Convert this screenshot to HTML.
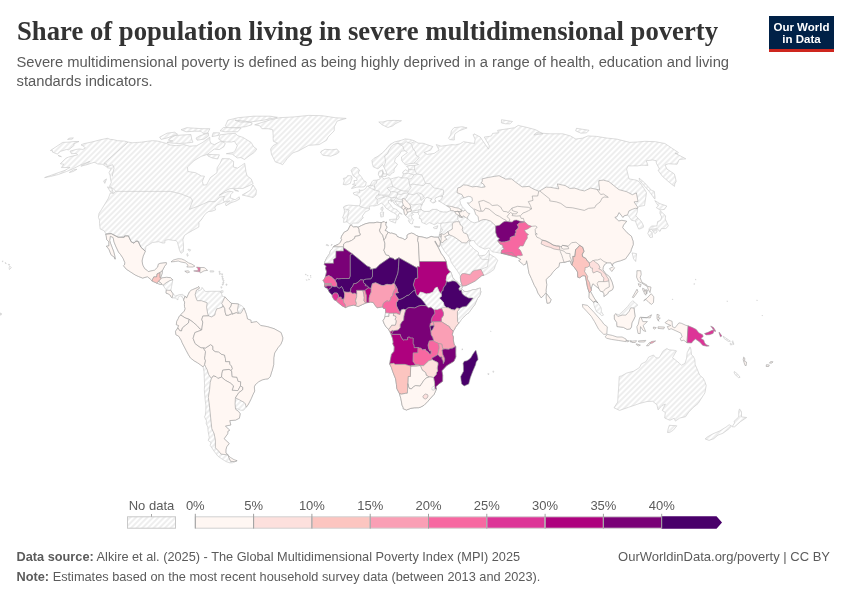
<!DOCTYPE html>
<html><head><meta charset="utf-8">
<style>
html,body{margin:0;padding:0;background:#fff;}
body{width:850px;height:600px;position:relative;overflow:hidden;font-family:"Liberation Sans",Arial,sans-serif;}
.t{position:absolute;white-space:nowrap;}
#title{left:16.5px;top:14.5px;font-family:"Liberation Serif",serif;font-weight:bold;font-size:28px;color:#333;line-height:32px;transform:scaleX(0.953);transform-origin:0 0;}
#sub{left:16.5px;top:53px;font-size:14.75px;color:#5b5b5b;line-height:18.9px;}
#logo{position:absolute;left:769px;top:16px;width:65px;height:33px;background:#002147;border-bottom:3px solid #ce261e;}
#logo div{position:absolute;width:65px;text-align:center;color:#fff;font-weight:bold;font-size:11.5px;line-height:12px;}
.foot{font-size:12.75px;color:#5b5b5b;line-height:15px;}
.foot b{color:#5b5b5b;}
#map{position:absolute;left:0;top:0;}
.lg{font-size:13px;color:#5b5b5b;}
</style></head>
<body>
<div class="t" id="title">Share of population living in severe multidimensional poverty</div>
<div class="t" id="sub">Severe multidimensional poverty is defined as being highly deprived in a range of health, education and living<br>standards indicators.</div>
<div id="logo"><div style="top:5px">Our World</div><div style="top:17px">in Data</div></div>

<svg id="map" width="850" height="600" viewBox="0 0 850 600">
<defs>
<pattern id="hatch" patternUnits="userSpaceOnUse" width="4" height="4" patternTransform="rotate(-45)">
<rect width="4" height="4" fill="#fff"/>
<rect y="1.5" width="4" height="1" fill="#dedede"/>
</pattern>
</defs>
<g id="land" stroke="#9a9a9a" stroke-width="0.6" stroke-linejoin="round">
<path fill="url(#hatch)" stroke="#c6c6c6" d="M70.1 151.1 75.9 149.5 79.4 148.9 82.8 149.5 85.3 148.0 84.0 146.4 81.0 144.9 83.8 143.7 91.7 142.0 99.5 140.0 107.3 138.3 110.3 139.4 113.3 139.6 117.5 140.7 124.4 141.1 128.1 142.1 132.2 142.8 137.7 142.4 141.3 142.2 147.3 141.3 152.2 140.7 156.6 140.9 160.1 141.7 166.6 143.5 170.1 145.0 176.2 145.7 184.1 144.6 189.4 146.2 196.6 145.7 202.8 142.4 209.8 137.2 209.9 140.9 211.1 143.5 214.4 144.6 220.0 141.7 222.5 141.7 225.3 143.5 223.8 146.8 219.4 149.5 214.2 149.1 207.3 154.4 201.1 156.4 194.0 160.7 187.4 167.1 187.9 171.5 195.5 172.7 201.3 175.9 204.5 176.2 202.3 181.4 203.4 185.1 206.5 184.9 210.4 177.6 217.0 172.7 217.1 167.9 220.2 163.1 222.1 158.6 229.5 158.8 233.6 161.4 233.4 167.1 237.6 168.1 241.6 165.4 244.7 163.3 245.6 169.1 245.9 171.5 247.1 175.9 251.2 178.9 253.1 183.6 249.7 185.4 242.9 188.4 233.9 188.4 229.8 188.6 224.9 191.2 219.3 195.2 223.1 193.2 228.9 191.2 233.3 191.9 230.8 194.5 230.1 197.8 235.2 199.8 239.2 196.8 239.6 199.1 235.9 201.1 231.1 202.7 226.0 205.8 225.4 203.7 229.8 200.9 224.4 202.1 220.6 203.7 216.5 205.2 214.9 207.6 215.5 209.9 211.9 211.2 208.8 211.4 205.9 213.3 202.8 217.4 201.9 219.0 199.0 222.4 198.8 227.0 192.7 230.4 187.6 233.3 184.5 235.4 182.8 239.8 183.5 244.5 183.4 251.6 181.1 253.3 179.7 250.8 178.5 246.4 177.5 242.5 176.2 240.6 173.3 240.4 168.2 239.6 164.9 240.4 164.8 243.0 162.5 243.0 158.8 241.7 152.4 242.5 148.0 245.3 146.0 246.4 145.3 251.2 143.1 256.3 142.0 261.0 142.8 265.2 144.8 268.8 147.5 270.7 148.3 271.6 153.9 270.3 154.4 270.3 157.7 267.1 158.4 264.1 160.1 263.4 166.3 262.6 166.5 263.9 164.7 266.2 162.3 270.7 162.2 273.3 161.1 276.4 160.1 277.5 161.6 278.0 163.2 277.7 166.7 277.3 170.5 277.7 172.8 279.8 171.6 286.3 170.8 290.3 172.3 292.9 173.1 293.9 175.5 296.0 177.9 295.2 179.3 294.6 182.5 294.4 184.9 296.3 183.6 300.2 183.0 297.8 180.1 295.6 178.0 297.6 177.9 299.9 175.4 298.1 172.2 297.8 170.9 296.8 170.5 295.5 168.3 293.9 166.0 293.1 166.3 290.0 163.0 285.3 162.3 284.5 161.9 284.1 160.3 284.5 156.7 283.1 152.1 281.1 151.6 280.1 147.4 276.7 142.7 278.1 138.3 276.4 135.3 275.0 130.9 272.2 126.2 269.1 123.5 265.7 124.5 264.9 124.9 262.7 123.1 258.4 120.7 254.7 118.5 252.1 115.7 246.1 114.0 241.9 113.1 237.5 110.3 236.2 109.7 240.6 110.6 243.5 112.2 247.7 113.5 251.1 114.8 255.9 115.1 259.2 114.7 257.6 111.0 254.7 108.9 249.2 106.3 246.2 108.9 245.9 108.9 241.9 106.7 239.6 106.2 235.8 105.7 234.1 105.7 233.6 104.1 230.7 100.2 229.0 99.5 223.4 99.6 220.3 98.4 217.4 99.0 213.4 101.6 209.4 108.2 198.6 110.4 192.9 113.6 193.5 115.5 191.4 115.2 190.7 112.9 188.4 109.4 186.4 111.3 182.6 110.4 178.1 110.2 175.7 109.0 172.7 111.3 168.3 107.8 167.9 104.4 165.3 102.2 164.2 97.8 164.0 95.7 162.9 94.1 162.3 86.9 164.7 80.9 166.2 89.7 161.4 79.6 165.4 73.4 168.6 66.5 171.5 58.6 174.4 50.8 176.4 44.6 177.6 54.1 174.2 65.0 170.3 70.1 167.4 61.4 167.6 63.8 164.2 60.3 163.8 65.8 158.3 68.5 157.1 77.7 154.8 76.0 153.4 71.4 153.7Z"/>
<path fill="url(#hatch)" stroke="#c6c6c6" d="M62.7 142.4 68.0 142.2 74.0 141.5 79.0 141.5 73.7 143.9 74.2 145.3 68.7 149.8 66.4 149.5 60.4 151.4 57.4 154.1 54.6 153.0 52.4 152.1 52.6 150.7 50.4 150.5Z"/>
<path fill="url(#hatch)" stroke="#c6c6c6" d="M69.8 138.1 73.4 137.9 72.1 139.1 67.6 139.4Z"/>
<path fill="url(#hatch)" stroke="#c6c6c6" d="M58.0 155.3 61.0 156.4 61.4 156.7 59.0 156.2Z"/>
<path fill="url(#hatch)" stroke="#c6c6c6" d="M254.7 124.8 269.1 120.2 279.7 117.7 294.1 116.9 308.8 115.4 322.2 115.7 335.2 117.7 346.2 118.4 337.1 121.1 334.3 126.7 334.2 130.8 328.1 137.0 326.6 140.2 321.0 143.5 319.0 144.6 308.7 145.3 298.5 150.9 292.6 153.0 287.4 158.3 282.6 164.7 280.2 163.5 275.3 161.9 273.2 157.6 271.5 154.4 270.6 149.1 273.0 145.7 277.5 143.1 273.4 141.3 273.1 138.5 273.2 135.3 272.7 129.7 268.0 128.7 261.9 128.7 259.8 125.8Z"/>
<path fill="url(#hatch)" stroke="#c6c6c6" d="M321.0 151.4 324.9 149.3 331.7 149.8 337.0 149.1 339.3 152.1 336.4 154.1 330.8 156.2 323.0 155.3 320.7 153.0Z"/>
<path fill="url(#hatch)" stroke="#c6c6c6" d="M244.5 159.5 249.0 156.0 254.2 152.5 256.8 149.1 253.7 146.8 251.1 142.4 247.5 140.2 242.9 137.4 237.7 135.7 235.5 133.4 228.0 133.8 219.9 134.9 218.7 139.1 222.0 141.3 226.5 142.0 231.4 142.0 234.4 141.3 237.3 145.7 235.4 150.2 233.2 152.5 226.3 153.7 232.2 154.1 237.3 157.9 241.0 157.6Z"/>
<path fill="url(#hatch)" stroke="#c6c6c6" d="M170.0 138.1 175.3 135.5 184.0 134.9 190.9 134.5 191.7 139.1 193.0 142.2 186.3 143.1 178.4 143.5 172.1 143.1 166.9 142.4 172.7 140.9 168.4 140.2Z"/>
<path fill="url(#hatch)" stroke="#c6c6c6" d="M159.6 137.2 167.0 133.2 174.6 132.2 177.6 134.3 166.7 138.1 161.1 139.4Z"/>
<path fill="url(#hatch)" stroke="#c6c6c6" d="M235.0 120.2 245.3 121.1 252.1 122.9 251.7 124.8 245.4 126.7 236.9 127.7 227.3 128.1 225.4 125.8 227.8 120.2 238.1 117.7 253.8 116.2 270.2 116.2 277.4 117.3 263.4 120.2 250.1 122.0 240.0 122.0Z"/>
<path fill="url(#hatch)" stroke="#c6c6c6" d="M223.4 127.5 241.1 128.1 237.7 131.8 225.2 131.8 220.0 130.8Z"/>
<path fill="url(#hatch)" stroke="#c6c6c6" d="M207.7 132.8 209.9 128.7 202.2 128.7 186.8 127.7 181.0 129.7 186.1 131.8 194.6 131.2 200.9 131.2 203.5 133.8Z"/>
<path fill="url(#hatch)" stroke="#c6c6c6" d="M199.7 135.9 208.3 133.0 208.6 135.9 204.0 139.1 197.2 140.2 196.0 138.1Z"/>
<path fill="url(#hatch)" stroke="#c6c6c6" d="M213.2 132.8 219.5 132.8 218.8 135.3 212.0 136.6Z"/>
<path fill="url(#hatch)" stroke="#c6c6c6" d="M207.3 154.4 219.4 154.8 217.7 159.0 212.1 157.9 208.0 156.0Z"/>
<path fill="url(#hatch)" stroke="#c6c6c6" d="M242.2 195.0 250.4 190.2 253.0 184.9 256.4 190.2 255.9 195.0 253.1 197.5 248.9 196.5Z"/>
<path fill="url(#hatch)" stroke="#c6c6c6" d="M107.4 186.9 110.5 191.9 113.3 192.9 111.9 188.4Z"/>
<path fill="url(#hatch)" stroke="#c6c6c6" d="M106.5 178.9 104.8 183.4 103.6 180.9Z"/>
<path fill="url(#hatch)" stroke="#c6c6c6" d="M233.8 189.1 238.6 191.2 235.1 190.7Z"/>
<path fill="url(#hatch)" stroke="#c6c6c6" d="M74.2 169.5 76.9 169.3 73.1 171.5 69.3 172.5Z"/>
<path fill="url(#hatch)" stroke="#c6c6c6" d="M184.9 296.3 186.3 297.3 186.5 298.1 188.3 294.4 189.5 291.8 191.2 290.3 192.7 289.6 197.4 287.6 198.6 286.5 199.4 288.2 197.9 289.7 198.8 290.5 200.0 290.3 201.9 289.0 202.0 287.4 203.3 289.0 205.6 291.6 209.1 291.3 215.5 291.3 220.6 291.3 222.6 296.5 224.9 296.8 228.9 301.2 231.6 303.4 235.8 303.7 238.5 304.0 242.4 306.2 244.0 308.0 246.4 314.3 247.5 319.0 251.0 320.3 251.0 322.6 256.8 321.6 260.7 325.5 267.2 326.6 274.1 328.7 281.1 332.6 282.8 337.8 282.6 340.0 280.9 344.2 278.0 347.7 274.7 352.9 273.8 357.7 273.7 364.7 272.2 370.5 271.6 372.0 270.3 376.5 268.2 378.8 265.5 379.1 262.2 379.9 258.7 381.7 255.2 384.8 254.3 386.9 254.7 391.1 252.9 394.7 251.2 398.7 249.5 402.1 247.8 405.2 246.2 407.2 243.5 410.3 240.6 410.2 237.5 408.9 235.4 407.8 235.7 409.4 238.7 411.5 240.2 413.8 239.4 418.2 235.6 420.1 229.7 420.6 230.8 425.0 225.4 426.0 228.4 429.1 229.7 430.2 227.9 431.2 227.7 433.8 224.1 438.7 229.2 443.5 226.8 446.6 225.9 449.6 225.9 453.1 228.3 455.0 228.1 455.6 230.6 461.3 233.7 461.3 237.1 460.7 234.9 461.8 232.4 462.8 229.6 462.8 226.1 461.6 222.1 459.1 217.8 456.1 214.4 451.6 210.1 445.3 211.2 442.7 208.1 440.4 209.3 437.6 208.1 431.2 207.8 427.3 206.2 423.4 206.5 420.8 204.5 416.9 205.3 415.1 205.8 410.9 205.9 405.2 205.3 401.3 204.9 397.1 204.3 389.5 204.6 385.6 204.4 380.6 204.0 371.8 203.1 366.9 200.7 365.0 197.7 362.9 194.1 360.8 190.4 357.9 188.5 354.8 186.2 350.5 182.2 342.8 181.2 340.2 178.7 336.2 175.9 334.7 175.5 331.3 177.8 327.9 178.6 325.5 176.3 324.7 176.7 321.5 178.3 318.5 179.0 316.5 180.9 315.2 181.1 314.3 184.2 311.2 185.2 308.8 184.5 306.5 184.4 304.6 184.7 302.0 183.6 300.2Z"/>
<path fill="url(#hatch)" stroke="#c6c6c6" d="M351.3 224.7 349.3 223.7 347.0 221.8 343.5 222.4 344.0 218.4 342.6 217.8 344.0 214.0 344.5 211.6 344.2 209.4 343.4 207.0 345.4 205.8 348.3 205.2 350.8 205.2 355.0 205.6 359.1 205.8 359.7 205.5 360.4 202.7 360.4 199.1 358.4 196.0 354.0 194.5 353.2 192.9 356.8 191.9 359.7 192.4 359.1 189.6 360.5 190.4 363.1 190.2 365.9 188.4 366.7 186.4 367.9 186.1 369.8 185.4 370.8 184.1 372.1 181.6 373.2 180.4 376.6 180.1 379.4 179.4 380.2 178.9 379.5 176.4 378.4 174.9 378.5 172.5 379.2 171.2 382.9 169.8 382.4 171.7 383.7 173.2 382.1 175.2 381.6 176.9 382.6 177.9 384.3 178.9 386.4 178.4 389.2 177.6 390.5 179.1 393.9 178.1 398.6 176.9 401.4 177.9 402.4 176.6 403.3 174.7 402.7 172.0 405.4 169.7 408.5 171.5 408.6 168.3 406.5 166.2 408.7 165.6 414.7 165.4 418.6 164.5 415.2 163.1 408.9 163.8 405.4 164.7 403.8 163.2 401.8 160.7 401.5 156.9 407.4 152.5 404.8 150.7 401.4 151.1 399.9 153.7 398.9 155.3 395.3 158.3 394.5 161.9 397.5 164.2 396.5 165.9 394.1 169.1 394.1 171.5 394.0 172.2 391.5 173.4 390.2 175.4 387.6 174.9 386.7 173.2 385.3 169.8 383.7 166.6 382.5 164.5 380.6 166.6 377.9 168.8 373.3 166.9 372.3 163.3 372.0 160.4 374.0 158.3 378.0 156.2 382.2 153.0 385.1 150.2 387.5 147.3 389.9 144.6 394.5 142.0 401.6 140.2 405.1 138.9 409.6 139.4 414.1 140.7 418.1 143.1 423.2 143.3 432.8 146.6 430.5 150.2 423.9 152.5 427.4 154.4 434.2 153.4 439.1 150.0 436.3 144.6 441.1 146.2 452.3 144.6 455.1 145.0 460.3 143.7 463.5 141.7 474.5 143.5 475.1 139.1 473.1 134.9 474.0 133.8 480.2 137.0 488.5 149.1 489.3 145.7 484.3 137.0 489.4 136.4 491.5 135.9 492.6 133.4 498.4 132.8 497.6 130.3 508.3 128.7 514.7 127.7 518.2 125.4 526.4 127.3 535.6 129.7 543.0 133.8 533.8 134.9 536.2 132.8 550.1 133.8 562.8 133.8 570.3 135.9 575.9 139.1 582.7 138.1 588.0 135.9 596.6 136.4 607.1 138.1 616.8 139.1 629.8 142.4 637.5 142.0 644.8 141.3 655.4 141.7 664.9 143.5 678.4 152.5 677.4 153.7 675.0 153.2 682.7 157.1 685.8 158.8 679.2 159.5 677.1 164.2 668.2 163.8 665.0 165.0 667.0 169.1 674.3 173.9 675.2 176.9 676.2 181.4 674.7 183.9 674.5 186.4 669.6 182.6 662.5 176.4 658.0 170.3 659.5 169.1 656.3 163.1 656.2 160.7 652.7 160.0 646.2 160.7 648.0 165.4 641.8 165.2 637.4 165.9 628.1 165.9 626.6 169.1 629.0 178.9 636.0 180.1 639.2 181.6 644.3 188.9 646.5 192.7 645.7 197.8 644.5 205.5 638.9 206.5 637.4 208.6 637.3 212.0 635.8 215.8 641.5 221.8 643.4 225.5 643.4 227.3 640.7 228.6 638.7 229.1 636.9 225.0 635.4 221.0 631.5 220.3 629.7 217.7 627.6 214.9 624.1 215.8 622.9 217.4 619.1 212.5 617.0 216.6 614.8 217.4 618.8 221.0 621.9 220.3 626.7 221.3 623.5 225.0 622.6 227.6 627.1 232.8 631.4 236.2 632.1 238.3 633.1 241.2 633.3 244.5 631.3 249.5 630.9 251.3 628.3 255.0 625.5 258.9 620.7 260.7 615.9 262.0 612.8 263.6 612.5 266.0 610.9 262.8 607.0 262.8 604.4 264.7 603.2 267.3 602.9 269.6 605.5 273.5 609.7 276.9 612.2 282.4 613.4 287.1 612.5 289.7 608.6 291.8 607.6 293.9 603.9 296.5 604.1 293.9 602.7 291.8 600.5 291.3 598.9 288.7 595.4 285.8 592.9 283.7 591.8 286.3 590.6 291.6 593.6 297.1 596.1 301.0 598.0 302.8 601.2 308.0 601.4 311.7 603.5 315.1 601.7 315.6 598.9 313.2 596.5 311.7 594.2 305.9 593.4 302.1 589.0 297.8 589.2 293.1 589.4 292.9 587.6 287.6 585.9 278.5 585.4 275.9 582.8 275.6 579.7 277.7 577.8 277.2 577.6 272.0 575.0 268.1 573.4 266.5 571.8 264.9 570.1 260.7 567.3 261.5 564.0 262.3 559.6 262.8 558.9 266.7 556.8 268.1 553.8 271.2 552.4 272.8 550.5 275.6 547.7 277.7 546.1 279.8 546.8 284.8 546.0 290.3 546.3 292.1 544.5 294.7 541.2 297.8 537.9 293.0 536.5 289.0 534.3 285.3 531.4 278.5 529.0 273.3 528.3 269.4 527.4 264.1 526.6 260.7 525.8 264.1 523.6 264.9 518.7 260.7 520.8 259.4 517.1 257.3 516.4 257.1 513.4 254.2 512.3 252.6 506.5 252.9 502.7 253.4 501.1 253.2 498.9 252.9 494.7 252.1 492.5 252.0 488.6 247.9 484.8 249.2 478.8 246.4 475.8 243.4 473.6 240.4 470.4 240.8 469.4 242.2 469.5 244.3 473.5 248.5 475.0 250.0 477.1 251.1 478.7 252.9 478.0 255.0 481.0 255.8 485.2 255.1 487.0 253.0 488.9 250.0 489.3 253.9 494.8 257.3 497.8 260.2 495.4 265.4 494.1 269.4 490.3 272.2 485.9 274.6 481.9 275.6 475.1 281.1 466.0 285.6 462.3 286.1 460.7 281.1 460.3 277.2 460.5 276.2 459.8 274.8 457.2 270.7 451.5 262.8 449.6 257.6 448.4 256.0 444.7 251.6 441.3 245.9 440.6 242.2 440.3 241.9 438.3 237.2 439.3 235.1 439.7 233.3 440.5 230.4 441.0 227.6 440.5 225.0 441.1 223.4 439.6 223.4 437.6 222.9 434.4 224.7 432.1 223.7 429.1 222.6 426.7 224.4 423.4 223.1 421.8 222.4 421.0 218.7 419.2 218.4 419.8 215.8 418.6 214.5 418.5 213.5 418.0 212.5 413.7 212.5 411.4 213.0 413.5 214.5 411.1 215.8 412.2 218.4 413.8 219.9 412.8 221.0 412.6 223.7 411.3 223.9 409.7 222.9 408.2 220.3 409.6 219.0 407.8 217.9 406.0 215.8 404.3 213.3 403.8 209.9 402.6 208.6 400.8 207.7 397.1 205.5 394.5 203.9 392.6 200.9 391.2 201.9 391.2 200.0 388.3 200.6 388.6 202.9 391.0 205.2 392.7 208.1 397.0 209.6 398.6 211.7 402.2 214.3 399.4 213.3 398.2 215.1 399.4 217.1 397.5 219.7 396.4 219.2 397.0 215.8 395.8 214.0 393.1 212.5 390.4 211.2 388.7 209.9 386.0 208.1 384.9 206.8 384.4 205.5 381.4 203.2 378.5 204.7 378.1 205.0 374.2 206.0 372.3 205.8 369.8 206.0 369.2 207.8 369.6 209.6 367.5 210.9 364.8 212.0 364.8 212.7 362.3 216.1 363.3 217.9 361.8 219.0 360.7 220.8 358.1 223.1 353.4 223.1Z"/>
<path fill="url(#hatch)" stroke="#c6c6c6" d="M351.5 188.6 356.9 187.1 363.9 186.9 365.7 185.4 366.2 182.1 363.5 180.4 361.9 177.6 359.8 174.9 358.1 173.4 359.5 170.0 356.7 167.6 353.6 167.6 351.2 170.3 352.2 173.2 353.3 175.9 355.2 176.9 357.1 178.9 357.0 180.4 353.9 180.6 354.6 183.4 352.4 184.4 356.0 185.4 353.0 186.4Z"/>
<path fill="url(#hatch)" stroke="#c6c6c6" d="M351.4 175.9 352.2 178.1 351.2 180.6 350.3 183.4 346.1 184.9 343.1 184.4 344.3 180.9 343.3 178.4 346.5 177.6 347.5 175.7 349.1 175.7Z"/>
<path fill="url(#hatch)" stroke="#c6c6c6" d="M381.1 212.0 383.6 212.0 383.4 216.6 380.9 217.1 380.3 213.0Z"/>
<path fill="url(#hatch)" stroke="#c6c6c6" d="M382.6 206.8 383.1 208.9 382.3 210.9 381.0 209.6 381.1 207.8Z"/>
<path fill="url(#hatch)" stroke="#c6c6c6" d="M389.5 219.5 396.3 219.0 395.5 223.1 389.8 220.8Z"/>
<path fill="url(#hatch)" stroke="#c6c6c6" d="M413.9 226.3 420.0 226.8 419.5 227.6 415.1 227.3Z"/>
<path fill="url(#hatch)" stroke="#c6c6c6" d="M433.2 227.6 437.9 225.7 437.0 228.6 434.4 228.6Z"/>
<path fill="url(#hatch)" stroke="#c6c6c6" d="M382.8 171.0 383.5 173.9 387.0 173.9 386.0 176.4 382.2 176.4Z"/>
<path fill="url(#hatch)" stroke="#c6c6c6" d="M383.1 122.0 387.2 120.7 394.2 120.4 401.5 120.7 395.2 123.8 392.8 125.8 387.9 127.5 382.2 124.8 378.8 122.0Z"/>
<path fill="url(#hatch)" stroke="#c6c6c6" d="M448.5 138.3 450.7 134.9 451.4 130.8 454.0 127.7 462.3 126.7 467.1 127.9 459.2 130.8 454.9 133.8 454.3 137.0 454.3 140.0 449.9 139.6Z"/>
<path fill="url(#hatch)" stroke="#c6c6c6" d="M501.4 122.9 501.5 119.7 512.5 121.5 509.9 123.8 505.5 123.8Z"/>
<path fill="url(#hatch)" stroke="#c6c6c6" d="M575.7 130.8 576.5 128.3 589.0 130.3 586.6 132.8 580.9 133.2Z"/>
<path fill="url(#hatch)" stroke="#c6c6c6" d="M639.1 178.1 644.4 182.6 651.3 190.2 654.3 191.4 655.1 197.8 654.8 199.1 649.2 191.4 642.5 183.9 639.5 180.1Z"/>
<path fill="url(#hatch)" stroke="#c6c6c6" d="M654.8 200.6 660.0 203.7 666.8 206.0 664.4 209.4 659.9 209.9 656.3 207.6 658.4 206.0Z"/>
<path fill="url(#hatch)" stroke="#c6c6c6" d="M660.2 210.7 665.6 215.8 665.2 219.0 666.8 222.4 668.3 225.7 667.0 227.6 665.3 228.6 661.4 228.6 660.0 231.5 657.0 228.6 652.9 229.1 649.0 230.2 649.3 228.4 651.5 226.0 656.9 226.0 657.6 221.6 660.6 220.3 661.7 217.1 659.9 213.3Z"/>
<path fill="url(#hatch)" stroke="#c6c6c6" d="M648.9 230.4 652.1 232.3 652.5 237.2 650.2 237.5 647.8 233.6Z"/>
<path fill="url(#hatch)" stroke="#c6c6c6" d="M652.3 230.2 656.8 229.7 657.0 232.0 654.8 233.6Z"/>
<path fill="url(#hatch)" stroke="#c6c6c6" d="M632.1 252.9 636.6 253.7 635.7 261.5 633.6 258.9Z"/>
<path fill="#fff7f3" d="M609.5 268.6 613.3 266.7 614.6 267.8 611.8 271.5Z"/>
<path fill="url(#hatch)" stroke="#c6c6c6" d="M546.4 293.4 551.1 299.7 549.9 302.8 547.1 303.3 546.2 298.1Z"/>
<path fill="url(#hatch)" stroke="#c6c6c6" d="M619.2 376.5 618.7 386.9 618.0 396.0 617.7 402.1 614.0 407.8 619.6 410.4 628.5 407.3 634.7 405.2 639.8 403.4 647.1 401.5 652.7 401.3 656.9 404.7 658.1 409.9 662.0 405.5 665.4 404.1 662.2 410.4 665.3 412.5 664.7 418.0 669.9 420.3 674.2 418.2 675.4 421.1 679.8 418.0 685.6 416.7 688.7 412.2 693.4 407.3 698.0 403.6 704.9 392.9 706.2 385.6 704.9 381.7 703.1 378.0 699.7 375.2 697.5 369.9 695.2 364.7 694.8 359.5 693.3 356.3 691.5 354.8 690.9 349.0 690.0 346.9 687.2 352.7 686.6 358.2 685.0 363.4 681.4 365.2 679.5 363.4 676.1 360.5 672.5 357.7 676.5 350.9 674.2 350.3 669.0 349.8 666.9 348.5 663.2 350.9 659.0 357.9 656.0 357.9 653.5 355.0 648.6 357.1 646.1 361.6 641.4 363.9 639.4 367.6 633.7 371.2 626.6 373.1 621.6 375.9Z"/>
<path fill="url(#hatch)" stroke="#c6c6c6" d="M669.3 425.3 676.8 425.8 673.3 430.2 669.6 432.5 667.5 432.5 668.1 429.1Z"/>
<path fill="url(#hatch)" stroke="#c6c6c6" d="M739.5 408.9 741.5 411.7 741.5 416.9 746.7 417.5 740.8 421.4 734.6 426.8 732.1 426.8 734.6 422.9 734.0 421.4 738.7 416.9 738.8 411.2Z"/>
<path fill="url(#hatch)" stroke="#c6c6c6" d="M729.2 424.7 731.6 426.0 728.2 429.4 722.8 433.3 718.0 435.1 713.8 438.7 709.0 440.4 705.1 438.9 707.4 436.9 713.0 433.8 719.8 430.9 726.0 427.1Z"/>
<path fill="url(#hatch)" stroke="#c6c6c6" d="M9.7 266.2 11.4 267.5 9.4 269.6 9.1 267.8Z"/>
<path fill="url(#hatch)" stroke="#c6c6c6" d="M8.3 264.3 9.8 264.7 8.8 265.2Z"/>
<path fill="url(#hatch)" stroke="#c6c6c6" d="M5.1 262.6 6.3 263.4 5.4 263.4Z"/>
<path fill="url(#hatch)" stroke="#c6c6c6" d="M2.1 261.0 3.2 261.3 2.6 261.8Z"/>
<path fill="#fff7f3" d="M333.5 246.7 334.1 246.0 338.2 244.5 340.5 242.2 341.7 239.6 341.1 238.8 341.4 236.7 342.6 234.6 344.3 232.1 346.3 231.2 347.9 230.2 349.5 227.0 350.1 225.5 351.4 225.2 353.3 227.0 356.6 226.8 358.1 227.3 361.6 225.5 365.7 223.7 369.4 222.9 373.9 222.9 376.9 222.2 379.7 222.5 381.5 222.5 384.2 221.6 385.1 222.6 386.8 222.1 385.6 223.9 385.9 225.5 387.0 227.0 386.4 228.4 385.0 230.4 386.7 231.2 388.2 232.3 390.5 233.3 391.8 233.1 396.3 234.6 397.1 236.4 399.5 237.5 402.7 238.5 404.9 239.8 407.1 238.0 407.1 235.1 409.0 233.8 411.6 233.1 413.8 233.8 415.7 235.1 418.3 236.4 423.1 237.2 426.9 238.3 428.9 237.5 431.2 236.4 434.1 237.2 438.3 237.2 440.3 241.9 439.9 245.1 439.3 246.5 437.5 245.3 435.1 240.9 434.8 241.7 436.6 244.8 438.4 247.9 441.2 253.6 443.5 256.6 446.2 261.5 447.3 267.8 448.8 270.4 450.7 272.0 452.3 275.9 452.9 278.2 455.0 279.8 457.1 281.9 459.7 284.3 460.7 285.0 461.6 285.8 462.3 287.4 461.1 288.7 461.9 288.7 462.1 289.1 463.9 291.3 466.2 291.7 469.6 291.0 473.0 289.7 475.8 289.5 478.7 288.4 480.5 288.1 480.2 290.3 480.9 291.8 479.7 295.5 477.5 298.4 474.6 305.0 471.3 309.1 469.0 312.5 467.5 313.6 464.4 316.1 461.1 319.9 458.7 323.3 457.2 325.0 455.4 327.4 454.4 329.6 453.2 331.1 452.3 334.7 453.4 336.8 453.3 339.9 453.7 342.2 454.3 344.9 455.8 346.3 455.7 352.8 455.9 356.9 453.9 361.3 446.8 365.6 441.9 370.8 442.7 375.2 442.6 381.3 438.3 384.4 435.9 386.8 436.4 389.1 435.1 392.1 434.2 394.2 431.6 397.0 427.9 401.3 424.1 405.2 420.8 407.0 418.8 407.7 414.2 407.8 410.9 408.3 406.4 410.0 403.2 408.7 403.2 407.5 402.1 405.2 400.9 398.7 399.5 393.7 396.8 388.6 396.4 384.3 395.6 378.9 392.8 371.8 391.3 367.3 389.7 364.1 390.6 358.7 391.5 354.3 394.0 351.3 394.3 346.9 392.8 343.8 393.2 342.1 392.6 338.6 391.2 334.8 391.0 334.0 390.1 332.1 388.5 329.3 386.0 326.8 384.4 324.2 383.0 320.7 384.4 318.5 384.7 317.9 385.0 316.4 385.5 312.9 385.7 311.3 385.3 308.4 383.6 308.5 382.7 307.0 382.0 307.0 379.0 307.5 377.0 307.8 374.4 304.4 373.3 302.5 370.7 302.1 369.1 302.4 366.7 302.7 365.7 303.1 362.4 304.5 358.1 306.6 355.8 305.7 353.7 305.1 348.8 306.1 345.5 307.6 342.2 305.9 338.0 302.5 336.4 301.0 334.1 299.7 332.4 296.8 332.3 295.4 331.4 294.2 329.4 292.3 328.5 290.5 327.1 288.0 325.8 287.9 324.6 286.7 324.5 284.8 324.6 283.5 323.8 281.1 322.9 280.6 324.1 279.3 325.3 277.1 326.6 271.7 325.5 268.3 326.2 266.0 324.3 264.7 324.7 262.0 327.1 257.1 329.7 253.7 330.4 250.8 332.5 248.5Z"/>
<path fill="url(#hatch)" stroke="#c6c6c6" d="M324.3 264.7 324.7 262.0 327.1 257.1 329.7 253.7 330.4 250.8 332.5 248.5 333.5 246.7 343.6 246.7 343.5 247.7 343.5 251.1 336.0 251.1 335.9 257.7 333.4 259.6 333.5 263.3 324.6 263.3Z"/>
<path fill="#fff7f3" d="M333.5 246.7 334.1 246.0 338.2 244.5 340.5 242.2 341.7 239.6 341.1 238.8 341.4 236.7 342.6 234.6 344.3 232.1 346.3 231.2 347.9 230.2 349.5 227.0 350.1 225.5 351.4 225.2 353.3 227.0 356.6 226.8 358.1 227.3 359.1 229.4 359.3 232.3 360.3 233.8 360.3 235.1 358.1 235.9 355.0 236.4 354.7 238.3 351.4 240.6 348.5 241.8 346.0 242.2 343.6 244.0 343.6 246.7Z"/>
<path fill="#fff7f3" d="M358.1 227.3 361.6 225.5 365.7 223.7 369.4 222.9 373.9 222.9 376.9 222.2 379.7 222.5 381.5 222.5 381.1 223.9 380.9 227.0 379.5 230.2 380.4 232.5 382.7 235.1 383.9 240.0 384.9 243.2 384.8 247.2 383.9 250.3 385.9 254.7 389.0 255.6 389.9 257.6 379.8 264.5 376.1 268.2 372.5 269.0 370.2 269.2 370.2 267.3 367.0 266.0 365.5 264.7 352.1 253.7 343.5 247.7 343.6 246.7 343.6 244.0 346.0 242.2 348.5 241.8 351.4 240.6 354.7 238.3 355.0 236.4 358.1 235.9 360.3 235.1 360.3 233.8 359.3 232.3 359.1 229.4Z"/>
<path fill="#fff7f3" d="M381.5 222.5 384.2 221.6 385.1 222.6 386.8 222.1 385.6 223.9 385.9 225.5 387.0 227.0 386.4 228.4 385.0 230.4 386.7 231.2 388.2 232.3 386.4 235.4 385.6 238.0 383.9 240.0 382.7 235.1 380.4 232.5 379.5 230.2 380.9 227.0 381.1 223.9Z"/>
<path fill="#fff7f3" d="M388.2 232.3 390.5 233.3 391.8 233.1 396.3 234.6 397.1 236.4 399.5 237.5 402.7 238.5 404.9 239.8 407.1 238.0 407.1 235.1 409.0 233.8 411.6 233.1 413.8 233.8 415.7 235.1 418.3 236.4 417.6 240.4 418.4 242.7 419.4 261.5 419.6 266.7 417.3 266.7 417.3 268.1 398.9 257.7 394.9 260.0 393.3 258.4 389.9 257.6 389.0 255.6 385.9 254.7 383.9 250.3 384.8 247.2 384.9 243.2 383.9 240.0 385.6 238.0 386.4 235.4Z"/>
<path fill="#fff7f3" d="M418.3 236.4 423.1 237.2 426.9 238.3 428.9 237.5 431.2 236.4 434.1 237.2 438.3 237.2 440.3 241.9 439.9 245.1 439.3 246.5 437.5 245.3 435.1 240.9 434.8 241.7 436.6 244.8 438.4 247.9 441.2 253.6 443.5 256.6 446.2 261.5 419.4 261.5 418.4 242.7 417.6 240.4Z"/>
<path fill="#ae017e" d="M446.2 261.5 447.3 267.8 448.8 270.4 450.7 272.0 448.1 274.1 447.0 275.6 446.2 279.8 446.5 281.6 445.8 285.0 444.5 286.1 443.3 288.4 443.0 290.8 441.6 291.3 441.3 294.2 439.1 291.6 437.2 287.1 435.1 288.2 432.9 292.1 429.5 293.4 426.1 293.9 422.6 292.6 420.3 292.1 418.1 296.0 416.9 295.5 415.7 292.9 415.4 290.5 414.3 287.6 413.3 285.0 413.9 282.4 415.2 278.5 417.7 278.0 417.3 268.1 417.3 266.7 419.6 266.7 419.4 261.5Z"/>
<path fill="url(#hatch)" stroke="#c6c6c6" d="M450.7 272.0 452.3 275.9 452.9 278.2 455.0 279.8 457.1 281.9 459.7 284.3 460.7 285.0 461.6 285.8 460.1 286.4 456.7 282.2 454.3 281.1 452.0 280.9 450.7 281.4 448.7 282.0 446.5 281.6 446.2 279.8 447.0 275.6 448.1 274.1Z"/>
<path fill="url(#hatch)" stroke="#c6c6c6" d="M461.6 285.8 462.3 287.4 461.1 288.7 461.9 288.7 462.1 289.1 461.3 290.3 459.3 290.3 458.8 288.7 460.1 286.4Z"/>
<path fill="url(#hatch)" stroke="#c6c6c6" d="M462.1 289.1 463.9 291.3 466.2 291.7 469.6 291.0 473.0 289.7 475.8 289.5 478.7 288.4 480.5 288.1 480.2 290.3 480.9 291.8 479.7 295.5 477.5 298.4 474.6 305.0 471.3 309.1 469.0 312.5 467.5 313.6 464.4 316.1 461.1 319.9 458.7 323.3 457.5 321.3 457.4 311.7 459.5 308.6 462.0 307.0 466.5 306.2 473.1 298.1 468.7 298.1 464.0 295.5 462.1 293.4 461.3 290.3Z"/>
<path fill="#49006a" d="M446.5 281.6 448.7 282.0 450.7 281.4 452.0 280.9 454.3 281.1 456.7 282.2 460.1 286.4 458.8 288.7 459.3 290.3 461.3 290.3 462.1 293.4 464.0 295.5 468.7 298.1 473.1 298.1 466.5 306.2 462.0 307.0 459.5 308.6 456.9 307.9 454.7 310.0 451.7 309.6 448.4 307.8 445.9 307.4 445.6 307.0 444.2 305.7 443.3 302.3 441.4 300.2 439.3 298.1 440.4 297.1 441.3 296.5 441.3 294.2 441.6 291.3 443.0 290.8 443.3 288.4 444.5 286.1 445.8 285.0Z"/>
<path fill="#fde0dd" d="M458.7 323.3 457.2 325.0 455.4 327.4 454.4 329.6 453.2 331.1 449.9 328.1 449.6 326.8 441.3 321.6 441.4 318.5 442.3 316.9 443.2 315.9 443.6 314.0 443.4 312.5 441.3 308.0 445.6 307.0 445.9 307.4 448.4 307.8 451.7 309.6 454.7 310.0 456.9 307.9 459.5 308.6 457.4 311.7 457.5 321.3Z"/>
<path fill="#fa9fb5" d="M453.2 331.1 452.3 334.7 453.4 336.8 453.3 339.9 453.7 342.2 454.3 344.9 455.8 346.3 452.4 348.2 450.1 348.5 448.9 349.3 445.0 348.9 443.1 349.2 442.3 346.7 441.7 344.1 439.9 343.8 438.6 343.5 434.2 341.5 433.7 340.7 432.6 337.3 431.1 334.7 430.7 330.6 432.0 330.2 433.2 328.1 433.9 326.8 433.9 325.3 433.3 321.7 441.3 321.6 449.6 326.8 449.9 328.1Z"/>
<path fill="#dd3497" d="M441.3 321.6 433.3 321.7 431.2 322.6 431.2 320.3 431.9 317.7 432.6 316.4 434.9 313.2 434.0 309.8 435.5 309.3 437.1 309.6 439.0 308.8 441.3 308.0 443.4 312.5 443.6 314.0 443.2 315.9 442.3 316.9 441.4 318.5Z"/>
<path fill="#fa9fb5" d="M431.2 322.6 433.3 321.7 433.9 325.3 429.8 326.2 430.3 323.4Z"/>
<path fill="#49006a" d="M429.8 326.2 433.9 325.3 433.9 326.8 433.2 328.1 432.0 330.2 430.7 330.6Z"/>
<path fill="url(#hatch)" stroke="#c6c6c6" d="M416.9 295.5 418.1 296.0 420.3 292.1 422.6 292.6 426.1 293.9 429.5 293.4 432.9 292.1 435.1 288.2 437.2 287.1 439.1 291.6 441.3 294.2 441.3 296.5 440.4 297.1 439.3 298.1 441.4 300.2 443.3 302.3 444.2 305.7 445.6 307.0 441.3 308.0 439.0 308.8 437.1 309.6 435.5 309.3 434.0 309.8 430.9 307.2 428.4 307.8 426.1 305.7 425.6 304.4 423.7 302.0 420.9 298.6 418.8 297.3Z"/>
<path fill="#49006a" d="M415.4 290.5 413.4 290.8 408.9 295.0 406.6 295.5 406.4 296.0 402.0 298.6 399.7 299.4 398.6 299.4 396.3 302.8 396.5 305.9 397.7 308.5 400.3 313.2 401.2 310.1 403.2 309.3 405.8 309.8 407.8 308.0 410.1 307.5 414.8 308.0 418.2 306.2 421.2 305.4 426.1 305.7 425.6 304.4 423.7 302.0 420.9 298.6 418.8 297.3 416.9 295.5 415.7 292.9Z"/>
<path fill="#49006a" d="M417.3 268.1 398.9 257.7 398.5 266.7 397.7 273.3 395.3 279.8 394.0 283.2 395.2 285.0 396.4 287.1 397.3 289.0 397.6 291.3 398.6 292.6 395.5 293.0 395.0 293.9 396.0 295.5 398.6 299.4 399.7 299.4 402.0 298.6 406.4 296.0 406.6 295.5 408.9 295.0 413.4 290.8 415.4 290.5 414.3 287.6 413.3 285.0 413.9 282.4 415.2 278.5 417.7 278.0Z"/>
<path fill="#49006a" d="M372.5 269.0 376.1 268.2 379.8 264.5 389.9 257.6 393.3 258.4 394.9 260.0 398.9 257.7 398.5 266.7 397.7 273.3 395.3 279.8 394.0 283.2 391.1 284.8 386.9 284.3 383.5 285.6 381.2 285.3 377.8 283.7 375.5 282.7 372.3 283.7 371.2 288.4 368.4 287.9 367.9 286.3 365.0 285.6 365.9 284.3 365.0 284.3 363.4 282.4 363.4 280.1 365.9 279.0 370.9 278.8 372.5 276.2Z"/>
<path fill="#49006a" d="M352.1 253.7 365.5 264.7 367.0 266.0 370.2 267.3 370.2 269.2 372.5 269.0 372.5 276.2 370.9 278.8 365.9 279.0 363.4 280.1 360.6 279.8 358.3 281.9 356.0 283.5 353.7 283.7 352.8 286.1 351.0 288.2 350.7 290.3 350.3 291.8 349.1 292.3 346.8 292.3 344.1 291.8 343.6 291.6 343.2 289.5 341.6 286.6 339.5 288.2 338.4 287.9 336.8 286.6 336.6 283.5 335.0 280.3 335.9 279.8 336.9 278.2 338.5 278.8 341.7 278.5 345.8 278.5 349.2 278.5 350.1 276.2 350.1 255.0Z"/>
<path fill="#7a0177" d="M325.3 277.1 326.6 271.7 325.5 268.3 326.2 266.0 324.3 264.7 324.6 263.3 333.5 263.3 333.4 259.6 335.9 257.7 336.0 251.1 343.5 251.1 343.5 247.7 352.1 253.7 350.1 255.0 350.1 276.2 349.2 278.5 345.8 278.5 341.7 278.5 338.5 278.8 336.9 278.2 335.9 279.8 335.0 280.3 331.4 276.9 328.7 275.6Z"/>
<path fill="#f768a1" d="M324.6 283.5 323.8 281.1 322.9 280.6 324.1 279.3 325.3 277.1 328.7 275.6 331.4 276.9 335.0 280.3 336.6 283.5 336.8 286.6 334.5 286.7 331.5 285.9 328.1 285.8 324.6 286.7 324.5 284.8 327.4 284.3 331.3 284.3 331.3 283.7 327.4 283.5Z"/>
<path fill="#fa9fb5" d="M324.5 284.8 324.6 283.5 327.4 283.5 331.3 283.7 331.3 284.3 327.4 284.3Z"/>
<path fill="#7a0177" d="M328.5 290.5 327.1 288.0 325.8 287.9 324.6 286.7 328.1 285.8 331.5 285.9 331.5 287.6 329.2 289.0Z"/>
<path fill="#49006a" d="M332.3 295.4 331.4 294.2 329.4 292.3 328.5 290.5 329.2 289.0 331.5 287.6 331.5 285.9 334.5 286.7 336.8 286.6 338.4 287.9 339.5 288.2 341.6 286.6 343.2 289.5 343.6 291.6 344.1 291.8 344.7 294.2 344.5 296.8 343.8 299.4 343.3 299.1 341.3 299.4 341.1 297.1 338.5 297.3 338.5 295.5 337.2 293.1 335.6 292.9 334.0 293.1Z"/>
<path fill="#dd3497" d="M336.4 301.0 334.1 299.7 332.4 296.8 332.3 295.4 334.0 293.1 335.6 292.9 337.2 293.1 338.5 295.5 338.5 297.3Z"/>
<path fill="#f768a1" d="M345.5 307.6 342.2 305.9 338.0 302.5 336.4 301.0 338.5 297.3 341.1 297.1 341.3 299.4 343.3 299.1 343.8 299.4 343.3 299.4 343.8 302.5 345.4 304.6Z"/>
<path fill="#fa9fb5" d="M355.8 305.7 353.7 305.1 348.8 306.1 345.5 307.6 345.4 304.6 343.8 302.5 343.3 299.4 343.8 299.4 344.5 296.8 344.7 294.2 344.1 291.8 346.8 292.3 349.1 292.3 350.3 291.8 352.6 293.4 354.6 293.1 356.7 294.2 356.7 296.8 355.5 300.7 356.5 303.3Z"/>
<path fill="#fde0dd" d="M365.7 303.1 362.4 304.5 358.1 306.6 355.8 305.7 356.5 303.3 355.5 300.7 356.7 296.8 356.7 294.2 356.5 290.3 362.9 290.3 363.8 294.2 364.3 297.6 364.0 300.7Z"/>
<path fill="#fa9fb5" d="M366.7 302.7 365.7 303.1 364.0 300.7 364.3 297.6 363.8 294.2 362.9 290.3 365.0 290.3 366.1 294.2 366.6 295.5 366.6 301.0Z"/>
<path fill="#ae017e" d="M369.1 302.4 366.7 302.7 366.6 301.0 366.6 295.5 366.1 294.2 365.0 290.3 366.1 289.2 368.4 287.9 371.2 288.4 371.2 292.1 369.8 295.2 369.1 298.4Z"/>
<path fill="#7a0177" d="M350.3 291.8 350.7 290.3 351.0 288.2 352.8 286.1 353.7 283.7 356.0 283.5 358.3 281.9 360.6 279.8 363.4 280.1 363.4 282.4 365.0 284.3 365.9 284.3 365.0 285.6 367.9 286.3 368.4 287.9 366.1 289.2 365.0 290.3 362.9 290.3 356.5 290.3 356.7 294.2 354.6 293.1 352.6 293.4Z"/>
<path fill="#fa9fb5" d="M382.7 307.0 382.0 307.0 379.0 307.5 377.0 307.8 374.4 304.4 373.3 302.5 370.7 302.1 369.1 302.4 369.1 298.4 369.8 295.2 371.2 292.1 371.2 288.4 372.3 283.7 375.5 282.7 377.8 283.7 381.2 285.3 383.5 285.6 386.9 284.3 391.1 284.8 394.0 283.2 395.2 285.0 395.5 288.2 394.1 290.8 393.2 292.9 392.6 295.5 391.0 297.3 390.1 300.7 388.2 301.5 387.3 300.7 384.8 302.0 383.2 303.8Z"/>
<path fill="#f768a1" d="M385.5 312.9 385.7 311.3 385.3 308.4 383.6 308.5 382.7 307.0 383.2 303.8 384.8 302.0 387.3 300.7 388.2 301.5 390.1 300.7 391.0 297.3 392.6 295.5 393.2 292.9 394.1 290.8 395.5 288.2 395.2 285.0 396.4 287.1 397.3 289.0 397.6 291.3 398.6 292.6 395.5 293.0 395.0 293.9 396.0 295.5 398.6 299.4 396.3 302.8 396.5 305.9 397.7 308.5 400.3 313.2 400.0 314.6 398.0 314.0 396.3 313.2 393.6 313.3 389.0 313.3Z"/>
<path fill="url(#hatch)" stroke="#c6c6c6" d="M385.0 316.4 385.5 312.9 389.0 313.3 389.0 316.4Z"/>
<path fill="#fff7f3" d="M388.5 329.3 386.0 326.8 384.4 324.2 383.0 320.7 384.4 318.5 384.7 317.9 385.0 316.4 389.0 316.4 389.0 313.3 393.6 313.3 393.4 315.6 395.4 315.9 396.1 317.4 395.0 319.3 396.4 320.6 396.1 323.2 395.2 325.3 391.7 325.3 390.3 327.6Z"/>
<path fill="#fde0dd" d="M390.1 332.1 388.5 329.3 390.3 327.6 391.7 325.3 395.2 325.3 396.1 323.2 396.4 320.6 395.0 319.3 396.1 317.4 395.4 315.9 393.4 315.6 393.6 313.3 396.3 313.2 398.0 314.0 400.0 314.6 400.3 313.2 401.2 310.1 403.2 309.3 405.8 309.8 404.6 313.8 404.0 316.4 403.7 320.3 402.1 321.6 400.3 324.7 400.3 327.6 398.2 330.1 395.2 330.5 393.1 331.0 392.4 330.5Z"/>
<path fill="#ae017e" d="M391.0 334.0 390.1 332.1 392.4 330.5 393.1 331.0 392.6 332.3 391.7 334.0Z"/>
<path fill="#7a0177" d="M391.2 334.8 391.0 334.0 391.7 334.0 392.6 332.3 393.1 331.0 395.2 330.5 398.2 330.1 400.3 327.6 400.3 324.7 402.1 321.6 403.7 320.3 404.0 316.4 404.6 313.8 405.8 309.8 407.8 308.0 410.1 307.5 414.8 308.0 418.2 306.2 421.2 305.4 426.1 305.7 428.4 307.8 430.9 307.2 434.0 309.8 434.9 313.2 432.6 316.4 431.9 317.7 431.2 320.3 431.2 322.6 430.3 323.4 429.8 326.2 430.7 330.6 431.1 334.7 432.6 337.3 433.7 340.7 429.4 340.9 428.9 342.5 428.1 345.1 428.5 347.7 429.6 350.9 431.2 350.7 431.1 354.0 429.3 354.0 428.0 351.9 426.2 351.1 425.3 349.3 422.5 350.1 420.9 348.2 418.9 348.0 418.0 347.5 415.7 347.7 414.1 347.7 413.9 344.9 413.0 343.5 413.1 338.1 410.1 338.1 409.6 337.0 407.8 337.3 407.5 339.9 404.3 339.9 403.2 340.2 401.1 337.3 400.2 334.4 392.8 334.4Z"/>
<path fill="#ae017e" d="M389.7 364.1 390.6 358.7 391.5 354.3 394.0 351.3 394.3 346.9 392.8 343.8 393.2 342.1 392.6 338.6 391.2 334.8 392.8 334.4 400.2 334.4 401.1 337.3 403.2 340.2 404.3 339.9 407.5 339.9 407.8 337.3 409.6 337.0 410.1 338.1 413.1 338.1 413.0 343.5 413.9 344.9 414.1 347.7 415.7 347.7 418.0 347.5 417.9 352.9 413.3 352.9 413.1 361.3 415.9 365.0 410.2 366.0 404.9 364.4 395.2 364.4 393.4 363.3Z"/>
<path fill="#f768a1" d="M415.9 365.0 413.1 361.3 413.3 352.9 417.9 352.9 418.0 347.5 418.9 348.0 420.9 348.2 422.5 350.1 425.3 349.3 426.2 351.1 428.0 351.9 429.3 354.0 431.1 354.0 431.2 350.7 429.6 350.9 428.5 347.7 428.1 345.1 428.9 342.5 429.4 340.9 433.7 340.7 434.2 341.5 438.6 343.5 438.7 344.1 439.3 347.5 438.5 351.6 437.7 354.8 433.8 357.1 431.9 357.9 432.3 359.7 428.8 360.8 426.0 363.4 423.6 365.7 420.3 365.5 418.2 364.7Z"/>
<path fill="#fa9fb5" d="M437.7 354.8 438.5 351.6 439.3 347.5 438.7 344.1 438.6 343.5 439.9 343.8 441.7 344.1 442.3 346.7 443.1 349.2 442.2 350.3 442.8 354.3 444.0 356.9 444.7 358.7 444.6 361.0 443.3 363.7 443.0 360.8 441.9 359.0 441.8 356.9 439.9 357.1 438.8 355.6Z"/>
<path fill="#7a0177" d="M455.8 346.3 455.7 352.8 455.9 356.9 453.9 361.3 446.8 365.6 441.9 370.8 442.7 375.2 442.6 381.3 438.3 384.4 435.9 386.8 436.4 389.1 434.7 389.1 434.6 386.8 434.6 383.0 433.5 377.5 436.2 374.6 436.5 372.5 437.7 371.0 437.2 368.1 438.0 364.2 437.9 362.6 433.6 360.5 432.3 359.7 431.9 357.9 433.8 357.1 437.7 354.8 438.8 355.6 439.9 357.1 441.8 356.9 441.9 359.0 443.0 360.8 443.3 363.7 444.6 361.0 444.7 358.7 444.0 356.9 442.8 354.3 442.2 350.3 443.1 349.2 445.0 348.9 448.9 349.3 450.1 348.5 452.4 348.2Z"/>
<path fill="#fde0dd" d="M432.3 359.7 433.6 360.5 437.9 362.6 438.0 364.2 437.2 368.1 437.7 371.0 436.5 372.5 436.2 374.6 433.5 377.5 430.6 377.0 429.2 377.0 426.2 375.2 425.6 372.5 422.3 370.2 420.3 365.5 423.6 365.7 426.0 363.4 428.8 360.8Z"/>
<path fill="#fff7f3" d="M420.3 365.5 422.3 370.2 425.6 372.5 426.2 375.2 429.2 377.0 426.1 378.0 423.7 380.6 420.1 386.1 415.6 385.6 413.3 386.9 411.4 389.0 409.0 388.2 407.8 383.6 408.1 376.5 410.3 376.5 410.7 366.0 415.9 366.0Z"/>
<path fill="#fcc5c0" d="M399.5 393.7 396.8 388.6 396.4 384.3 395.6 378.9 392.8 371.8 391.3 367.3 389.7 364.1 393.4 363.3 395.2 364.4 404.9 364.4 410.2 366.0 415.9 365.0 418.2 364.7 420.3 365.5 415.9 366.0 410.7 366.0 410.3 376.5 408.1 376.5 407.8 383.6 407.4 393.2 405.2 393.4 401.6 394.2Z"/>
<path fill="#fff7f3" d="M436.4 389.1 435.1 392.1 434.2 394.2 431.6 397.0 427.9 401.3 424.1 405.2 420.8 407.0 418.8 407.7 414.2 407.8 410.9 408.3 406.4 410.0 403.2 408.7 403.2 407.5 402.1 405.2 400.9 398.7 399.5 393.7 401.6 394.2 405.2 393.4 407.4 393.2 407.8 383.6 409.0 388.2 411.4 389.0 413.3 386.9 415.6 385.6 420.1 386.1 423.7 380.6 426.1 378.0 429.2 377.0 430.6 377.0 433.5 377.5 434.6 383.0 434.6 386.8 434.7 389.1Z"/>
<path fill="url(#hatch)" stroke="#c6c6c6" d="M433.1 386.3 434.6 386.8 434.7 389.1 434.1 390.3 432.1 390.0 431.8 388.0Z"/>
<path fill="#fde0dd" d="M422.8 396.3 425.2 394.0 427.4 394.5 428.1 396.0 427.1 398.1 425.2 399.1 423.5 398.1Z"/>
<path fill="#49006a" d="M475.9 350.3 477.7 356.9 478.0 359.5 476.2 362.1 475.6 364.7 472.8 371.2 470.3 377.8 468.7 384.0 464.2 385.9 461.7 384.0 461.1 380.4 460.7 376.5 463.5 371.2 463.4 366.0 463.1 363.4 464.2 361.3 466.7 360.8 469.0 359.5 471.0 357.4 472.8 354.3 474.7 351.6Z"/>
<path fill="#fff7f3" d="M105.7 234.1 111.2 233.6 118.1 237.2 124.2 237.2 124.7 235.9 128.4 235.9 131.1 241.7 134.0 243.2 135.9 241.2 138.1 241.2 140.9 247.2 145.3 251.2 143.1 256.3 142.0 261.0 142.8 265.2 144.8 268.8 147.5 270.7 148.3 271.6 153.9 270.3 154.4 270.3 157.7 267.1 158.4 264.1 160.1 263.4 166.3 262.6 166.5 263.9 164.7 266.2 162.3 270.7 160.1 272.5 157.1 273.9 156.7 276.9 153.8 276.9 152.5 279.5 152.1 281.1 151.6 280.1 147.4 276.7 142.7 278.1 138.3 276.4 135.3 275.0 130.9 272.2 126.2 269.1 123.5 265.7 124.5 264.9 124.9 262.7 123.1 258.4 120.7 254.7 118.5 252.1 115.7 246.1 114.0 241.9 113.1 237.5 110.3 236.2 109.7 240.6 110.6 243.5 112.2 247.7 113.5 251.1 114.8 255.9 115.1 259.2 114.7 257.6 111.0 254.7 108.9 249.2 106.3 246.2 108.9 245.9 108.9 241.9 106.7 239.6 106.2 235.8Z"/>
<path fill="#fcc5c0" d="M152.1 281.1 152.5 279.5 153.8 276.9 156.7 276.9 157.1 273.9 160.1 272.5 160.1 277.5 161.6 278.0 158.6 281.4 156.7 283.1Z"/>
<path fill="#fff7f3" d="M162.3 270.7 162.2 273.3 161.1 276.4 160.1 277.5 160.1 272.5Z"/>
<path fill="#fff7f3" d="M161.6 278.0 163.2 277.7 166.7 277.3 170.5 277.7 172.8 279.8 169.8 280.6 168.1 281.6 166.2 282.7 164.2 284.3 163.0 285.3 162.3 284.5 161.9 284.1 160.4 282.7 158.6 281.4Z"/>
<path fill="#fff7f3" d="M161.9 284.1 160.3 284.5 156.7 283.1 158.6 281.4 160.4 282.7Z"/>
<path fill="#fff7f3" d="M170.8 290.3 172.3 292.9 173.1 293.9 172.2 297.8 170.9 296.8 170.5 295.5 168.3 293.9 166.0 293.1 166.3 290.0 168.3 290.3Z"/>
<path fill="none" d="M105.7 234.1 111.2 233.6 118.1 237.2 124.2 237.2 124.7 235.9 128.4 235.9 131.1 241.7 134.0 243.2 135.9 241.2 138.1 241.2 140.9 247.2 145.3 251.2"/>
<path fill="none" stroke="#c6c6c6" d="M128.1 142.1 103.8 163.5 106.8 164.2 107.1 166.6 112.7 164.7 114.1 168.1 112.6 173.9 112.4 176.4"/>
<path fill="none" stroke="#c6c6c6" d="M115.5 191.4 170.9 191.4 181.2 194.0 190.8 197.8 192.6 200.9 189.3 209.4 197.8 206.3 203.9 203.7 208.4 201.6 215.0 201.6 219.6 197.3 224.5 196.3 223.2 200.1 224.4 202.1"/>
<path fill="none" stroke="#c6c6c6" d="M183.6 300.2 184.9 296.3"/>
<path fill="#fff7f3" d="M171.0 261.9 173.4 260.0 178.1 258.7 181.4 258.9 184.6 260.2 188.4 262.8 191.9 264.1 194.9 266.1 192.9 267.0 186.8 267.0 188.1 265.2 185.4 262.8 181.0 262.0 178.2 261.0 175.4 261.5Z"/>
<path fill="#f768a1" d="M196.5 267.1 200.3 267.5 199.9 271.8 197.4 271.6 193.7 270.9 198.4 270.5 197.7 268.3Z"/>
<path fill="#fff7f3" d="M200.3 267.5 204.2 267.5 205.7 268.6 207.6 270.4 204.1 270.8 200.4 273.0 199.9 271.8Z"/>
<path fill="#fff7f3" d="M184.8 271.2 188.2 270.8 189.6 272.0 187.3 272.8Z"/>
<path fill="url(#hatch)" stroke="#c6c6c6" d="M210.2 270.7 213.8 270.9 213.7 272.0 210.1 272.0Z"/>
<path fill="url(#hatch)" stroke="#c6c6c6" d="M188.5 249.0 190.6 249.8 189.9 251.3 187.9 249.8Z"/>
<path fill="url(#hatch)" stroke="#c6c6c6" d="M187.4 253.4 188.2 255.8 187.4 256.3 186.8 254.2Z"/>
<path fill="url(#hatch)" stroke="#c6c6c6" d="M221.1 290.8 223.1 290.8 222.8 292.6 220.7 292.6Z"/>
<path fill="#fff7f3" d="M184.9 296.3 186.3 297.3 186.5 298.1 188.3 294.4 189.5 291.8 191.2 290.3 192.7 289.6 197.4 287.6 198.6 286.5 199.4 288.2 196.5 290.0 195.1 294.7 196.1 298.1 197.2 300.7 201.5 300.7 207.2 302.8 206.6 307.2 207.7 313.8 208.6 315.9 202.8 316.1 201.8 319.5 202.8 322.1 201.7 330.0 199.9 328.9 196.8 325.5 193.3 322.4 189.2 319.4 185.2 317.9 180.9 315.2 181.1 314.3 184.2 311.2 185.2 308.8 184.5 306.5 184.4 304.6 184.7 302.0 183.6 300.2Z"/>
<path fill="#fff7f3" d="M177.8 327.9 178.6 325.5 176.3 324.7 176.7 321.5 178.3 318.5 179.0 316.5 180.9 315.2 185.2 317.9 189.2 319.4 188.5 322.9 185.3 325.5 182.4 327.9 181.5 331.0 179.7 330.7Z"/>
<path fill="#fff7f3" d="M203.1 366.9 200.7 365.0 197.7 362.9 194.1 360.8 190.4 357.9 188.5 354.8 186.2 350.5 182.2 342.8 181.2 340.2 178.7 336.2 175.9 334.7 175.5 331.3 177.8 327.9 179.7 330.7 181.5 331.0 182.4 327.9 185.3 325.5 188.5 322.9 189.2 319.4 193.3 322.4 196.8 325.5 199.9 328.9 201.7 330.0 194.9 332.6 193.1 338.3 195.1 343.5 197.1 345.1 200.9 347.7 203.2 347.7 205.5 351.6 205.1 355.6 204.6 358.2 205.5 360.8 204.7 364.7Z"/>
<path fill="#fff7f3" d="M204.7 364.7 205.5 360.8 204.6 358.2 205.1 355.6 205.5 351.6 203.2 347.7 205.5 348.0 210.6 344.6 213.0 346.4 212.9 349.8 215.3 351.6 218.6 351.9 221.5 354.3 224.5 355.0 225.4 358.4 225.6 361.6 229.7 361.6 229.9 364.2 231.5 366.0 232.4 368.6 231.1 370.7 229.0 369.4 222.7 370.2 221.9 373.8 221.5 377.1 217.9 378.5 216.1 376.7 213.3 375.9 211.4 378.5 208.7 374.6 207.0 369.4 205.9 367.3Z"/>
<path fill="#fff7f3" d="M221.5 377.1 221.9 373.8 222.7 370.2 229.0 369.4 231.1 370.7 231.7 371.2 232.2 376.7 236.9 377.2 238.2 381.4 240.7 381.7 240.5 385.9 237.9 390.6 232.1 390.3 233.5 385.9 230.3 383.0 225.5 380.4Z"/>
<path fill="#fff7f3" d="M235.4 407.8 235.7 409.4 238.7 411.5 240.2 413.8 239.4 418.2 235.6 420.1 229.7 420.6 230.8 425.0 225.4 426.0 228.4 429.1 229.7 430.2 227.9 431.2 227.7 433.8 224.1 438.7 229.2 443.5 226.8 446.6 225.9 449.6 225.9 453.1 228.3 455.0 221.0 454.1 219.1 451.6 215.4 447.8 215.4 440.2 214.2 433.8 211.8 428.6 211.1 422.1 210.2 413.0 209.4 405.2 208.3 397.4 209.6 389.5 210.2 382.5 211.4 378.5 213.3 375.9 216.1 376.7 217.9 378.5 221.5 377.1 225.5 380.4 230.3 383.0 233.5 385.9 232.1 390.3 237.9 390.6 240.5 385.9 242.9 387.4 242.7 389.8 238.8 392.7 235.4 397.9 235.1 403.9Z"/>
<path fill="#fff7f3" d="M228.5 455.6 230.4 457.4 233.9 459.6 237.1 460.7 234.8 461.6 230.6 461.3 228.1 455.6Z"/>
<path fill="#fff7f3" d="M244.0 308.0 246.4 314.3 247.5 319.0 251.0 320.3 251.0 322.6 256.8 321.6 260.7 325.5 267.2 326.6 274.1 328.7 281.1 332.6 282.8 337.8 282.6 340.0 280.9 344.2 278.0 347.7 274.7 352.9 273.8 357.7 273.7 364.7 272.2 370.5 271.6 372.0 270.3 376.5 268.2 378.8 265.5 379.1 262.2 379.9 258.7 381.7 255.2 384.8 254.3 386.9 254.7 391.1 252.9 394.7 251.2 398.7 249.5 402.1 247.8 405.2 246.2 407.2 245.4 403.9 244.0 402.3 241.1 400.8 239.2 399.7 235.4 397.9 238.8 392.7 242.7 389.8 242.9 387.4 240.5 385.9 240.7 381.7 238.2 381.4 236.9 377.2 232.2 376.7 231.7 371.2 231.1 370.7 232.4 368.6 231.5 366.0 229.9 364.2 229.7 361.6 225.6 361.6 225.4 358.4 224.5 355.0 221.5 354.3 218.6 351.9 215.3 351.6 212.9 349.8 213.0 346.4 210.6 344.6 205.5 348.0 203.2 347.7 200.9 347.7 197.1 345.1 195.1 343.5 193.1 338.3 194.9 332.6 201.7 330.0 202.8 322.1 201.8 319.5 202.8 316.1 208.6 315.9 211.5 316.9 214.8 315.1 215.3 312.5 216.7 308.8 218.4 308.5 222.3 307.2 223.0 305.4 224.8 308.5 225.2 312.2 226.1 315.3 228.6 315.1 231.4 313.8 232.6 314.0 236.1 312.5 238.3 313.2 240.9 313.2Z"/>
<path fill="#fff7f3" d="M224.9 296.8 228.9 301.2 231.6 303.4 231.1 305.9 229.4 308.5 230.8 310.4 232.6 314.0 231.4 313.8 228.6 315.1 226.1 315.3 225.2 312.2 224.8 308.5 223.0 305.4 221.7 303.6 222.9 301.2Z"/>
<path fill="#fff7f3" d="M231.6 303.4 235.8 303.7 238.5 304.0 237.5 309.8 238.3 313.2 236.1 312.5 232.6 314.0 230.8 310.4 229.4 308.5 231.1 305.9Z"/>
<path fill="#fff7f3" d="M463.8 198.0 468.9 196.3 471.8 197.5 472.3 200.9 469.3 202.9 467.2 202.7 470.1 206.3 473.8 209.4 474.8 212.0 475.6 214.5 477.9 216.4 478.8 221.6 479.2 221.3 481.9 220.0 483.7 219.5 486.4 219.7 490.3 221.0 493.5 223.7 495.7 226.0 495.7 229.4 495.7 232.3 497.1 236.7 499.4 238.5 497.8 240.9 500.4 244.3 502.8 245.3 503.1 247.7 504.4 249.0 501.5 250.3 501.1 253.2 502.7 253.4 506.5 252.9 512.3 252.6 513.4 254.2 516.4 257.1 517.1 257.3 520.8 259.4 518.7 260.7 523.6 264.9 525.8 264.1 526.6 260.7 527.4 264.1 528.3 269.4 529.0 273.3 531.4 278.5 534.3 285.3 536.5 289.0 537.9 293.0 541.2 297.8 544.5 294.7 546.3 292.1 546.0 290.3 546.8 284.8 546.1 279.8 547.7 277.7 550.5 275.6 552.4 272.8 553.8 271.2 556.8 268.1 558.9 266.7 559.6 262.8 564.0 262.3 567.3 261.5 570.1 260.7 571.8 264.9 573.4 266.5 575.0 268.1 577.6 272.0 577.8 277.2 579.7 277.7 582.8 275.6 585.4 275.9 585.9 278.5 587.6 287.6 589.4 292.9 589.2 293.1 589.0 297.8 593.4 302.1 595.4 301.2 598.0 302.8 596.1 301.0 593.6 297.1 590.6 291.6 591.8 286.3 592.9 283.7 595.4 285.8 598.9 288.7 600.5 291.3 602.7 291.8 604.1 293.9 603.9 296.5 607.6 293.9 608.6 291.8 612.5 289.7 613.4 287.1 612.2 282.4 609.7 276.9 605.5 273.5 602.9 269.6 603.2 267.3 604.4 264.7 607.0 262.8 610.9 262.8 612.5 266.0 612.8 263.6 615.9 262.0 620.7 260.7 625.5 258.9 628.3 255.0 630.9 251.3 631.3 249.5 633.3 244.5 633.1 241.2 632.1 238.3 631.4 236.2 627.1 232.8 622.6 227.6 623.5 225.0 626.7 221.3 621.9 220.3 618.8 221.0 614.8 217.4 617.0 216.6 619.1 212.5 622.9 217.4 624.1 215.8 627.6 214.9 628.9 210.9 632.2 209.4 635.2 208.3 637.4 208.6 637.4 206.8 634.0 201.9 638.0 201.4 636.4 192.9 632.4 194.7 626.6 191.7 618.8 189.6 608.9 181.6 603.4 180.1 598.9 180.6 598.8 182.6 599.6 190.2 596.9 189.4 590.7 188.1 584.4 190.9 579.8 189.9 574.7 188.1 569.9 188.4 565.3 185.6 557.3 183.9 558.8 188.9 550.9 187.4 546.2 187.1 543.1 188.9 539.7 190.9 538.8 191.2 533.1 188.9 528.9 186.4 522.2 186.9 516.2 182.6 511.5 178.9 505.6 179.1 499.0 175.7 494.3 176.4 488.6 177.4 482.0 178.9 482.4 181.4 480.9 182.6 483.3 183.9 485.2 186.9 481.5 187.4 476.2 186.4 472.4 186.9 466.9 185.1 463.5 184.9 460.0 187.4 457.8 187.9 457.0 192.7 461.9 194.5Z"/>
<path fill="#7a0177" d="M495.7 226.0 499.4 225.2 502.7 222.6 504.2 221.6 506.3 221.3 509.0 221.8 512.3 222.1 514.0 220.3 516.5 220.0 520.1 221.3 524.3 221.8 523.6 222.5 519.4 222.9 517.3 224.7 518.5 227.0 517.7 228.9 515.8 230.2 516.1 232.8 515.0 233.6 515.4 235.7 512.7 236.4 510.3 237.5 510.0 240.6 504.9 241.9 501.6 242.2 497.8 240.9 499.4 238.5 497.1 236.7 495.7 232.3 495.7 229.4Z"/>
<path fill="#f768a1" d="M524.3 221.8 526.1 222.9 528.0 225.0 531.8 226.3 529.4 227.8 527.7 228.9 524.5 230.2 526.0 232.8 528.6 234.6 527.0 235.4 527.4 238.0 525.5 240.9 523.1 246.0 520.0 245.9 518.2 248.5 520.0 249.8 521.2 251.9 522.5 255.3 520.3 255.8 517.6 255.5 516.4 257.1 501.1 253.2 502.7 253.4 506.5 252.9 512.3 252.6 513.4 254.2 516.4 257.1 501.1 253.2 501.5 250.3 504.4 249.0 503.1 247.7 502.8 245.3 500.4 244.3 497.8 240.9 501.6 242.2 504.9 241.9 510.0 240.6 510.3 237.5 512.7 236.4 515.4 235.7 515.0 233.6 516.1 232.8 515.8 230.2 517.7 228.9 518.5 227.0 517.3 224.7 519.4 222.9 523.6 222.5Z"/>
<path fill="#fcc5c0" d="M579.6 245.3 577.7 247.7 575.6 249.5 575.2 253.2 574.7 256.6 572.8 256.3 573.1 261.0 572.3 263.4 571.8 264.9 573.4 266.5 575.0 268.1 577.6 272.0 577.8 277.2 579.7 277.7 582.8 275.6 585.4 275.9 585.9 278.5 587.6 287.6 589.4 292.9 591.5 290.3 590.2 286.3 589.6 282.7 587.4 279.0 587.7 276.4 584.2 270.9 585.1 270.4 585.1 267.5 587.3 267.3 589.6 265.8 589.4 262.8 587.6 261.3 585.8 258.4 582.5 256.6 582.3 254.2 584.0 251.3 582.7 247.2Z"/>
<path fill="#fde0dd" d="M589.4 262.8 589.6 265.8 590.9 268.1 592.5 268.1 592.3 270.4 593.2 273.0 595.1 272.2 597.0 271.2 601.2 273.3 601.8 275.9 603.9 278.0 603.4 281.6 605.3 281.6 608.8 280.9 608.6 279.0 607.2 277.2 605.4 274.1 601.9 270.4 598.7 268.6 600.1 267.8 598.5 264.4 595.6 262.3 593.5 260.5 592.6 260.5 591.3 262.0Z"/>
<path fill="#fde0dd" d="M542.2 240.1 545.7 240.9 549.4 242.7 553.3 245.1 556.5 245.9 559.3 246.1 560.0 250.0 554.0 249.0 550.4 247.4 545.7 246.1 541.0 243.8Z"/>
<path fill="#fff7f3" d="M561.2 246.9 562.5 245.3 567.1 246.1 568.0 246.4 568.7 248.7 563.7 249.2 561.5 248.2Z"/>
<path fill="#fff7f3" d="M564.0 262.3 567.3 261.5 570.1 260.7 571.8 264.9 572.3 263.4 571.4 260.2 569.9 256.3 570.1 253.7 566.0 253.2 564.1 251.3 560.9 250.0 560.3 251.6 561.9 255.5 562.8 258.4Z"/>
<path fill="none" d="M538.8 191.2 537.7 196.0 532.2 196.0 533.0 200.4 528.3 201.6 530.4 205.5 531.6 208.9M531.6 208.9 528.4 207.3 521.9 206.8 517.6 206.3 511.9 208.1M511.9 208.1 511.0 209.4 509.1 211.2 508.3 212.7 506.5 211.7 503.4 211.4 502.0 209.4 500.7 207.0 497.3 205.0 492.2 205.5 489.5 203.2 483.5 200.4 478.7 201.6 481.2 211.2 479.1 211.2 474.4 209.1 473.8 209.4M481.2 211.2 483.3 211.2 485.6 208.1 489.1 209.1 491.8 211.4 495.9 214.8 499.5 216.4 503.3 219.0 505.8 220.0 506.3 221.3M511.9 208.1 512.2 210.4 513.9 211.2 515.8 211.7 517.7 212.3 516.4 213.8 514.5 213.8 512.8 213.8 510.5 212.5 508.7 214.3 507.0 216.6 509.8 219.2 509.0 221.8M512.8 213.8 512.1 215.6 516.5 216.1 520.0 215.8 521.2 218.4 523.4 218.4 524.3 221.8M520.4 215.8 523.0 213.0 525.8 212.0 528.5 210.7 531.6 208.9M539.7 190.9 549.9 199.1 549.7 200.9 556.4 201.9 560.8 203.4 566.1 207.3 572.6 207.8 584.3 210.4 588.6 208.3 594.6 207.8 596.1 205.0 600.0 202.1 602.2 198.0 604.2 197.0 608.3 197.3 603.4 194.0 600.7 194.5 596.9 189.4M531.8 226.3 535.4 226.0 537.2 227.0 535.2 229.4 535.4 232.8 537.3 234.1 535.2 233.8 536.9 237.2 539.6 238.3 542.2 240.1 545.7 240.9 549.4 242.7 553.3 245.1 556.5 245.9 559.3 246.1 561.2 246.9 562.5 245.3 567.1 246.1 568.0 246.4 571.6 242.7 576.0 242.2 579.6 245.3M579.6 245.3 577.7 247.7 575.6 249.5 575.2 253.2 574.7 256.6 572.8 256.3 573.1 261.0 572.3 263.4 571.8 264.9M579.6 245.3 582.7 247.2 584.0 251.3 582.3 254.2 582.5 256.6 585.8 258.4 587.6 261.3 589.4 262.8M607.0 262.8 603.9 261.5 600.5 258.9 597.5 260.0 595.3 260.0 593.5 260.5M598.9 288.7 597.2 283.5 598.4 281.6 603.4 281.6M602.7 291.8 603.9 290.5 605.8 288.7 609.3 286.9 609.2 283.7 608.8 280.9M593.4 302.1 595.4 301.2 598.0 302.8"/>
<path fill="#fff7f3" d="M470.4 240.8 469.3 240.9 468.5 240.4 466.4 243.0 462.2 242.7 455.6 237.8 451.8 235.7 449.1 234.9 447.8 231.7 452.3 229.1 452.3 226.0 452.4 223.7 454.3 222.1 456.6 221.6 459.4 221.8 460.4 225.0 462.9 227.0 462.2 229.7 463.7 232.8 467.2 234.1 468.0 236.7 469.1 239.3Z"/>
<path fill="#fff7f3" d="M449.1 234.9 447.8 231.7 443.8 234.6 441.0 233.6 441.1 236.7 441.2 239.3 440.6 241.9 442.8 242.7 444.4 240.6 446.9 239.3 444.5 236.7Z"/>
<path fill="#fff7f3" d="M439.8 234.1 441.0 234.4 441.1 236.7 439.9 237.1 439.9 235.7Z"/>
<path fill="#fa9fb5" d="M481.9 275.6 475.1 281.1 466.0 285.6 462.3 286.1 460.7 281.1 460.3 277.2 460.5 276.2 461.9 273.8 464.2 273.5 467.6 274.1 470.0 274.8 472.5 271.5 474.4 270.4 481.0 269.4 483.9 275.5Z"/>
<path fill="#fff7f3" d="M446.4 205.8 450.2 208.1 450.5 210.7 453.2 210.7 454.9 211.7 457.6 211.4 461.3 212.0 461.3 209.9 458.4 208.1 455.1 207.6 451.8 206.5Z"/>
<path fill="#fff7f3" d="M454.9 211.7 457.6 211.4 459.2 212.2 460.0 215.1 462.3 217.4 461.3 217.4 458.3 215.3 455.4 213.3Z"/>
<path fill="#fff7f3" d="M457.6 211.4 461.3 212.0 461.3 209.9 463.2 211.2 465.3 209.9 467.8 213.0 469.9 213.5 467.6 217.1 467.7 218.7 465.5 217.4 463.1 215.8 462.3 217.4 460.0 215.1 459.2 212.2Z"/>
<path fill="#fff7f3" d="M458.3 215.3 460.5 215.8 461.5 217.4 459.0 216.6Z"/>
<path fill="#fff7f3" d="M401.7 208.2 403.8 209.8 404.3 213.3 405.5 215.3 406.9 214.3 407.4 212.3 409.4 211.7 411.3 211.2 411.3 209.4 410.0 208.6 410.8 206.8 409.7 204.2 407.4 202.1 404.6 198.8 403.1 198.6 402.0 199.3 403.0 201.1 402.2 201.9 403.0 204.2 403.6 205.5 402.0 206.0Z"/>
<path fill="none" d="M403.6 205.5 404.5 206.5 405.4 207.3 404.9 207.9 403.8 209.8M404.9 207.9 406.3 209.6 407.4 212.3M406.3 209.6 408.3 208.9 410.0 208.6M405.4 207.3 408.3 208.9"/>
<path fill="#fff" stroke="#c0c0c0" d="M424.4 211.4 429.3 211.4 432.3 209.4 436.8 209.4 439.6 211.2 443.3 212.0 446.9 212.0 450.5 210.7 450.2 208.1 446.4 205.8 445.7 205.2 441.2 202.4 438.4 200.9 440.2 200.4 441.6 198.8 442.9 196.0 439.5 196.3 435.6 197.8 434.9 199.6 436.1 201.4 433.8 202.9 432.3 202.7 429.9 200.6 432.0 199.1 427.6 197.5 425.8 197.8 424.6 199.6 424.2 201.1 422.4 203.7 421.2 206.3 420.6 208.1 421.9 210.4Z"/>
<path fill="#fff" stroke="#c0c0c0" d="M463.8 198.0 468.9 196.3 471.8 197.5 472.3 200.9 469.3 202.9 467.2 202.7 470.1 206.3 473.8 209.4 474.8 212.0 475.6 214.5 477.9 216.4 478.8 221.6 474.1 222.9 470.6 221.3 467.7 218.7 467.6 217.1 469.9 213.5 467.8 213.0 465.3 209.9 462.3 206.8 460.5 203.4 459.8 200.4 461.3 198.8Z"/>
<path fill="#fff7f3" d="M546.4 293.4 551.1 299.7 549.9 302.8 547.1 303.3 546.2 298.1Z"/>
<path fill="#fff7f3" d="M582.4 304.4 587.5 305.4 594.2 312.5 601.7 321.1 603.9 324.2 607.3 326.8 606.8 334.1 603.8 334.4 598.7 329.4 594.5 321.6 591.3 316.4 586.6 311.2 582.8 307.2Z"/>
<path fill="#fff7f3" d="M605.1 336.8 607.3 334.4 612.3 335.4 617.0 337.0 622.1 337.0 626.1 339.1 626.2 341.7 618.2 340.4 611.4 339.4 606.8 338.3Z"/>
<path fill="url(#hatch)" stroke="#c6c6c6" d="M614.3 315.1 615.7 313.8 619.0 314.8 623.5 310.6 627.9 306.2 630.1 303.3 632.7 300.7 637.8 305.1 634.0 308.0 635.1 316.4 634.0 319.0 631.9 322.9 631.5 326.8 630.3 328.9 627.1 329.4 623.5 327.4 618.9 326.8 617.0 326.6 616.7 322.4 614.4 319.0Z"/>
<path fill="#fff7f3" d="M615.7 313.8 617.8 316.4 622.4 315.1 625.9 315.1 629.2 311.2 630.7 307.8 634.0 308.0 635.1 316.4 634.0 319.0 631.9 322.9 631.5 326.8 630.3 328.9 627.1 329.4 623.5 327.4 618.9 326.8 617.0 326.6 616.7 322.4 614.4 319.0 614.3 315.1Z"/>
<path fill="#fff7f3" d="M636.8 326.8 638.0 333.4 640.2 333.6 640.5 326.6 643.2 330.5 645.7 331.5 643.1 325.5 647.4 321.6 642.8 321.6 641.2 317.7 646.7 317.7 651.5 314.8 650.2 317.9 640.0 317.2 639.3 319.0 638.3 324.2Z"/>
<path fill="#fff7f3" d="M665.1 322.6 668.6 320.0 672.1 321.3 672.4 326.6 674.9 327.9 678.9 322.9 681.2 323.2 685.8 325.3 688.1 325.8 687.0 342.8 683.8 340.2 681.4 340.9 680.0 338.6 682.2 336.8 680.8 333.1 675.2 330.5 671.1 328.7 668.8 329.7 667.3 326.6 670.8 325.5 665.6 323.2Z"/>
<path fill="#dd3497" d="M688.1 325.8 692.6 327.6 696.2 329.4 698.8 332.8 702.6 334.7 703.2 336.5 700.9 338.6 703.6 339.9 704.5 342.5 705.9 344.6 709.2 345.9 706.8 346.2 702.8 345.4 699.7 342.0 695.4 339.1 692.9 341.2 691.6 343.0 687.0 342.8Z"/>
<path fill="#dd3497" d="M704.5 333.6 708.5 332.1 712.1 330.2 714.2 330.0 713.1 333.4 709.5 334.7 706.0 334.9Z"/>
<path fill="#dd3497" d="M710.7 326.0 713.4 327.4 715.5 330.7 715.2 331.8 712.2 328.1Z"/>
<path fill="#dd3497" d="M719.1 332.1 721.9 336.0 720.4 336.8 719.3 333.4Z"/>
<path fill="url(#hatch)" stroke="#c6c6c6" d="M723.2 336.2 730.4 341.2 728.5 341.5 724.2 338.6Z"/>
<path fill="url(#hatch)" stroke="#c6c6c6" d="M730.2 343.0 732.3 344.6 730.4 344.9Z"/>
<path fill="url(#hatch)" stroke="#c6c6c6" d="M732.7 340.7 733.9 344.3 733.2 344.6 732.2 341.5Z"/>
<path fill="#fff7f3" d="M743.7 357.1 744.8 358.2 744.6 361.3 746.5 362.1 746.2 365.5 745.1 365.5 744.0 362.4 743.2 359.7Z"/>
<path fill="#fff7f3" d="M766.4 364.7 769.3 365.0 768.7 366.5 766.2 366.5Z"/>
<path fill="#fff7f3" d="M770.6 361.6 773.0 361.8 771.8 363.1 769.5 363.1Z"/>
<path fill="url(#hatch)" stroke="#c6c6c6" d="M734.3 371.5 737.3 373.8 740.1 377.2 738.8 377.8 735.1 374.6 734.2 372.8Z"/>
<path fill="#fff7f3" d="M646.5 345.9 649.0 343.0 650.2 342.5 650.4 343.5 648.8 345.6Z"/>
<path fill="#fa9fb5" d="M650.2 342.5 651.5 341.5 655.6 340.9 652.5 343.0 650.4 343.5Z"/>
<path fill="#fff7f3" d="M626.3 340.2 629.0 340.9 627.7 342.0Z"/>
<path fill="#fff7f3" d="M629.7 340.7 631.3 340.7 630.7 342.2Z"/>
<path fill="#fff7f3" d="M631.5 341.2 636.6 340.7 635.3 342.5 631.8 342.5Z"/>
<path fill="#fff7f3" d="M638.4 340.9 645.8 340.4 644.5 342.0 638.8 342.0Z"/>
<path fill="#fff7f3" d="M636.3 343.8 640.4 345.1 638.4 345.9 636.3 344.6Z"/>
<path fill="#fff7f3" d="M657.0 314.3 659.3 315.1 658.2 317.7 660.3 318.2 658.0 320.0 658.9 321.3 657.1 319.0Z"/>
<path fill="#fff7f3" d="M658.1 326.8 664.5 327.1 663.7 328.9 658.0 328.4Z"/>
<path fill="#fff7f3" d="M653.4 327.1 656.2 327.6 654.7 329.2 653.4 328.4Z"/>
<path fill="#fff7f3" d="M636.9 270.7 640.8 270.7 641.2 274.6 640.1 277.7 642.0 282.4 646.9 285.0 647.0 286.3 644.5 284.8 641.6 282.9 638.6 281.6 636.6 277.2 636.9 273.3Z"/>
<path fill="#fff7f3" d="M643.7 300.7 647.0 298.1 651.2 293.7 653.8 296.8 653.5 302.5 651.5 304.4 648.9 302.5 645.9 299.4Z"/>
<path fill="#fff7f3" d="M647.5 286.3 651.0 287.1 650.0 292.6 648.0 289.0Z"/>
<path fill="#fff7f3" d="M642.6 288.2 645.3 289.7 644.1 291.6 642.9 290.5Z"/>
<path fill="#fff7f3" d="M644.1 290.8 646.4 290.8 645.8 295.2 644.1 293.1Z"/>
<path fill="#fff7f3" d="M646.0 289.7 647.5 290.3 646.7 293.9Z"/>
<path fill="#fff7f3" d="M632.4 297.3 637.0 289.2 637.9 291.6 633.6 297.6Z"/>
<path fill="#fff7f3" d="M638.2 283.7 641.1 284.5 640.2 287.1 638.9 285.6Z"/>
<path fill="none" stroke="#c6c6c6" d="M359.1 205.8 362.9 207.6 366.0 208.1 369.6 208.3M344.2 209.4 345.7 209.1 349.2 210.1 348.3 212.0 348.0 215.6 347.3 218.4 346.7 221.8M367.9 186.1 371.3 188.6 372.5 188.9 374.6 190.2 375.8 190.2 379.4 191.4 378.4 195.0 376.9 195.2 375.4 198.0 377.3 199.3 377.0 201.6 377.4 203.7 378.5 204.7M369.6 185.5 372.8 185.2 374.5 187.0 375.1 188.1 374.6 190.2M377.0 180.6 376.3 183.4 374.6 184.4 374.5 187.0M379.5 176.6 382.0 176.9M390.5 179.1 391.6 182.6 392.7 186.4 391.4 186.6 387.1 188.1 390.8 191.9 389.4 195.2 384.3 195.2 382.4 195.0 378.4 195.0M377.3 199.3 380.3 198.0 382.0 197.8 384.2 197.5 384.2 196.8 382.4 195.2M384.2 196.8 387.8 196.3 391.0 197.8 390.9 200.1M391.0 197.8 395.6 197.3M390.8 191.9 393.1 191.4 397.1 192.4 397.6 194.0 396.6 196.5 395.6 197.3M392.7 186.4 395.9 188.1 400.7 190.2M397.1 192.4 398.8 191.7 400.7 190.2 403.2 190.9 408.4 191.2 411.0 187.6 409.7 185.1 408.6 179.1 407.0 177.9 400.9 177.9M397.6 194.0 401.1 194.5 403.4 193.5 407.6 192.9 408.4 191.2M395.6 197.3 396.9 197.8 398.5 199.3 401.6 199.3 403.1 198.6M404.6 198.8 406.4 198.0 407.8 194.5 409.4 194.0 407.6 192.9M390.9 200.4 394.2 200.4 395.1 198.6 396.9 197.8M395.3 201.1 398.0 201.3 402.2 201.9M395.3 201.1 396.6 203.7 399.0 205.8 401.7 207.8M409.4 194.0 413.5 194.7 416.8 193.2 420.3 196.8 421.0 200.4M410.1 203.7 412.9 205.0 417.0 204.5 419.7 203.9 422.5 204.9M411.3 211.2 414.6 210.7 417.9 210.1 418.5 209.6 421.8 209.4M418.5 210.1 418.0 212.5M416.8 193.2 418.6 192.9 422.2 194.2 424.4 197.8 421.0 200.4M409.7 185.1 412.3 184.1 416.3 184.6 423.4 185.6 425.6 183.6 429.9 183.4 433.8 187.9 439.4 188.9 443.4 189.9 443.6 194.5 440.9 196.3M408.6 179.1 411.4 178.6 413.9 174.9 416.6 173.9 421.9 174.9 425.6 183.6M403.2 173.8 408.6 173.2 413.9 174.9M408.6 169.3 414.5 170.0M416.6 173.9 415.4 170.8 414.5 170.0 414.7 165.4M413.9 163.1 416.5 160.7 419.3 157.4 416.1 155.3 415.2 151.4 412.7 148.2 412.1 145.7 410.7 143.5 414.1 141.7M404.8 150.7 403.6 149.1 403.1 146.4 398.1 143.5 403.3 144.2 406.1 141.7 410.7 143.5M383.7 166.6 385.7 161.9 384.6 156.0 387.6 153.7 388.9 150.2 391.1 146.8 393.3 144.6 396.5 143.5 398.1 143.5M441.1 223.4 442.1 222.9 444.9 222.9 449.1 222.1 454.3 222.1M459.4 221.8 457.8 219.7 457.6 216.1 458.3 215.3M441.1 228.6 442.8 229.7 441.3 232.0 439.8 232.5M481.0 269.4 487.5 266.7 488.5 259.7 481.5 259.2 478.9 255.5M488.5 259.7 489.6 253.9M635.2 220.3 637.8 218.2M199.4 288.2 199.4 288.2"/>
<path fill="url(#hatch)" stroke="#c6c6c6" d="M305.3 274.3 306.2 274.3 305.9 275.1Z"/>
<path fill="url(#hatch)" stroke="#c6c6c6" d="M307.3 275.4 308.2 275.6 307.7 275.9Z"/>
<path fill="url(#hatch)" stroke="#c6c6c6" d="M310.5 275.1 310.9 275.6 310.5 275.9Z"/>
<path fill="url(#hatch)" stroke="#c6c6c6" d="M310.7 276.7 311.1 277.2 310.7 277.5Z"/>
<path fill="url(#hatch)" stroke="#c6c6c6" d="M308.6 279.0 309.5 279.5 309.0 280.1Z"/>
<path fill="url(#hatch)" stroke="#c6c6c6" d="M306.2 279.8 307.2 280.1 306.7 280.3Z"/>
<path fill="url(#hatch)" stroke="#c6c6c6" d="M492.8 371.2 493.9 371.2 493.3 372.5Z"/>
<path fill="url(#hatch)" stroke="#c6c6c6" d="M487.8 373.6 489.1 373.8 488.4 374.9Z"/>
<path fill="url(#hatch)" stroke="#c6c6c6" d="M462.0 348.8 462.7 349.0 462.2 350.1Z"/>
<path fill="url(#hatch)" stroke="#c6c6c6" d="M490.6 331.0 491.0 331.0 490.8 331.5Z"/>
<path fill="url(#hatch)" stroke="#c6c6c6" d="M0.0 313.0 1.6 313.6 1.2 315.0 0.0 315.0Z"/>
<path fill="url(#hatch)" stroke="#c6c6c6" d="M326.9 244.3 325.9 245.1 328.4 245.9 328.6 245.3Z"/>
<path fill="url(#hatch)" stroke="#c6c6c6" d="M331.8 244.0 332.2 244.8 331.0 245.6Z"/>
<path fill="url(#hatch)" stroke="#c6c6c6" d="M672.4 299.1 672.9 299.4 672.4 299.9Z"/>
<path fill="url(#hatch)" stroke="#c6c6c6" d="M726.8 301.0 727.5 301.0 727.3 301.5Z"/>
<path fill="url(#hatch)" stroke="#c6c6c6" d="M756.5 300.2 757.4 300.4 757.0 300.7Z"/>
<path fill="url(#hatch)" stroke="#c6c6c6" d="M762.0 315.3 762.5 315.6 762.0 315.9Z"/>
<path fill="url(#hatch)" stroke="#c6c6c6" d="M694.0 283.5 694.5 283.7 694.2 284.5Z"/>
<path fill="url(#hatch)" stroke="#c6c6c6" d="M695.4 279.3 695.9 279.5 695.8 280.1Z"/>
<path fill="url(#hatch)" stroke="#c6c6c6" d="M221.6 273.7 222.8 273.9 222.3 275.1 221.7 274.8Z"/>
<path fill="url(#hatch)" stroke="#c6c6c6" d="M221.9 276.0 223.0 276.3 222.6 277.5 221.9 277.2Z"/>
<path fill="url(#hatch)" stroke="#c6c6c6" d="M222.3 278.1 223.4 278.4 223.0 279.5 222.3 279.3Z"/>
<path fill="url(#hatch)" stroke="#c6c6c6" d="M223.0 279.9 224.1 280.2 223.7 281.4 223.0 281.1Z"/>
<path fill="url(#hatch)" stroke="#c6c6c6" d="M222.8 282.0 224.0 282.3 223.5 283.5 222.9 283.2Z"/>
<path fill="url(#hatch)" stroke="#c6c6c6" d="M222.2 283.9 223.4 284.1 223.0 285.3 222.3 285.0Z"/>
<path fill="url(#hatch)" stroke="#c6c6c6" d="M220.9 286.7 222.1 287.0 221.6 288.2 221.0 287.9Z"/>
<path fill="url(#hatch)" stroke="#c6c6c6" d="M226.0 284.0 227.1 284.3 226.7 285.4 226.1 285.2Z"/>
<path fill="url(#hatch)" stroke="#c6c6c6" d="M219.4 273.1 220.5 273.4 220.1 274.6 219.4 274.3Z"/>
<path fill="url(#hatch)" stroke="#c6c6c6" d="M219.0 271.2 220.1 271.5 219.7 272.6 219.0 272.4Z"/>
</g>
<!-- legend -->
<g id="legend">
<rect x="127.5" y="516.8" width="48" height="11.4" fill="url(#hatch)" stroke="#c8c8c8" stroke-width="1"/>
<line x1="151.5" y1="514" x2="151.5" y2="516.8" stroke="#aaa" stroke-width="1"/>
<rect x="195.3" y="516.8" width="58.3" height="11.4" fill="#fff7f3" stroke="#d0d0d0" stroke-width="1"/>
<rect x="253.6" y="516.8" width="58.3" height="11.4" fill="#fde0dd" stroke="#d0d0d0" stroke-width="1"/>
<rect x="311.9" y="516.8" width="58.3" height="11.4" fill="#fcc5c0" stroke="#d0d0d0" stroke-width="1"/>
<rect x="370.2" y="516.8" width="58.3" height="11.4" fill="#fa9fb5" stroke="#d0d0d0" stroke-width="1"/>
<rect x="428.5" y="516.8" width="58.3" height="11.4" fill="#f768a1" stroke="#d0d0d0" stroke-width="1"/>
<rect x="486.8" y="516.8" width="58.3" height="11.4" fill="#dd3497" stroke="#d0d0d0" stroke-width="1"/>
<rect x="545.1" y="516.8" width="58.3" height="11.4" fill="#ae017e" stroke="#d0d0d0" stroke-width="1"/>
<rect x="603.4" y="516.8" width="58.3" height="11.4" fill="#7a0177" stroke="#d0d0d0" stroke-width="1"/>
<path d="M661.7 516.3 H716.5 L722 522.5 L716.5 528.7 H661.7 Z" fill="#49006a"/>
<line x1="195.3" y1="513.8" x2="195.3" y2="528.5" stroke="#a0a0a0" stroke-width="1"/>
<line x1="253.6" y1="513.8" x2="253.6" y2="528.5" stroke="#a0a0a0" stroke-width="1"/>
<line x1="311.9" y1="513.8" x2="311.9" y2="528.5" stroke="#a0a0a0" stroke-width="1"/>
<line x1="370.2" y1="513.8" x2="370.2" y2="528.5" stroke="#a0a0a0" stroke-width="1"/>
<line x1="428.5" y1="513.8" x2="428.5" y2="528.5" stroke="#a0a0a0" stroke-width="1"/>
<line x1="486.8" y1="513.8" x2="486.8" y2="528.5" stroke="#a0a0a0" stroke-width="1"/>
<line x1="545.1" y1="513.8" x2="545.1" y2="528.5" stroke="#a0a0a0" stroke-width="1"/>
<line x1="603.4" y1="513.8" x2="603.4" y2="528.5" stroke="#a0a0a0" stroke-width="1"/>
<line x1="661.7" y1="513.8" x2="661.7" y2="528.5" stroke="#a0a0a0" stroke-width="1"/>
<g font-family="Liberation Sans, Arial, sans-serif" font-size="13" fill="#5b5b5b" text-anchor="middle">
<text x="151.5" y="510">No data</text>
<text x="195.3" y="510">0%</text>
<text x="253.6" y="510">5%</text>
<text x="311.9" y="510">10%</text>
<text x="370.2" y="510">15%</text>
<text x="428.5" y="510">20%</text>
<text x="486.8" y="510">25%</text>
<text x="545.1" y="510">30%</text>
<text x="603.4" y="510">35%</text>
<text x="661.7" y="510">40%</text>
</g>
</g>
</svg>

<div class="t foot" style="left:16.5px;top:548.6px"><b>Data source:</b> Alkire et al. (2025) - The Global Multidimensional Poverty Index (MPI) 2025</div>
<div class="t foot" style="left:16.5px;top:569px"><b>Note:</b> Estimates based on the most recent household survey data (between 2013 and 2023).</div>
<div class="t foot" style="right:20px;top:548.6px;font-size:13px">OurWorldinData.org/poverty | CC BY</div>
</body></html>
